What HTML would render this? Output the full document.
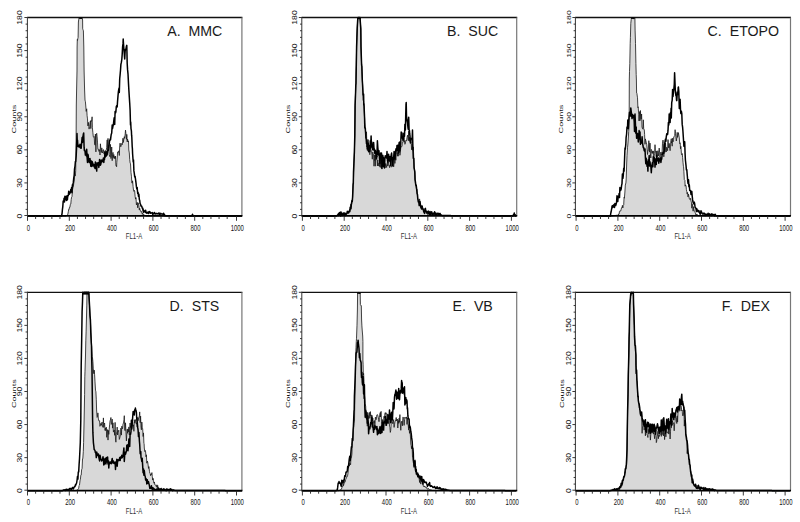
<!DOCTYPE html>
<html><head><meta charset="utf-8"><style>
html,body{margin:0;padding:0;background:#fff;}
svg{display:block;}
text{font-family:"Liberation Sans",sans-serif;fill:#222;}
.yl{font-size:6.6px;text-anchor:middle;fill:#111;}
.xl{font-size:9px;text-anchor:middle;fill:#111;}
.xt{font-size:8.6px;text-anchor:middle;fill:#333;}
.ct{font-size:6.1px;text-anchor:middle;fill:#111;}
.tt{font-size:14.2px;fill:#1a1a1a;}
</style></head><body>
<svg width="800" height="522" viewBox="0 0 800 522">
<rect width="800" height="522" fill="#fff"/>
<path d="M27.3,216 66,216 66.2,215.9 66.6,215.6 67,215.3 67.3,215.1 67.8,214.3 68.3,211.8 68.7,209.3 69.1,209.5 69.5,207.2 69.9,207.4 70.3,204.4 70.8,204.1 71.2,199.5 71.6,197.2 72,196.5 72.4,190.4 72.9,187.9 73.4,186 73.7,183.8 74.1,181.4 74.5,177.2 75,174.7 75.4,175.7 75.7,170.7 76.1,140 76.3,105 76.6,90 77,71 77.1,47 77.3,39.5 77.5,40.4 77.9,38.2 78.1,37.5 78.4,22 78.7,19.8 79.1,17.5 80,17.5 80.4,17.7 80.8,17.5 81.2,17.6 81.6,17.5 82.1,17.5 82.6,20 82.7,28.8 82.9,29.4 83.4,30.8 83.8,47 84.1,71 84.6,90 85,100.1 85.4,101.6 85.7,105 86.2,111.4 86.7,108.8 87.1,115.7 87.5,118.9 87.9,125.9 88.4,122.4 88.7,126.4 89.1,129.1 89.6,126.5 90,122.7 90.4,120.9 90.8,128.6 91.1,120.4 91.3,121.4 91.7,120.9 92.1,116.8 92.4,127.8 92.9,132.8 93.3,136.8 93.8,137.2 94.2,136.5 94.6,144.3 95.1,145.2 95.4,134 95.9,151.9 96.3,135.2 96.7,133.3 97.1,136.5 97.5,142.1 97.9,149.3 98.5,149.2 98.8,151.3 99.2,150.9 99.6,149.6 99.8,153.3 100,155 100.4,143.8 100.9,149.7 101.3,152.5 101.8,147.9 102.1,151.8 102.5,153 103,149.9 103.4,149.6 103.8,153.1 104.2,154.1 104.5,151.9 105,157.9 105.5,153.9 105.9,150 106.3,149.8 106.7,147.7 107.2,139.9 107.6,153 108,138.4 108.4,147.8 108.8,144.9 109.2,154.5 109.6,156.1 109.9,155.9 110.1,156.8 110.5,144.4 110.9,158.5 111.3,156.2 111.7,147 112.2,160.7 112.5,154.6 113,152.4 113.4,157.6 113.8,154.5 114.2,158.7 114.7,156.4 115.2,158.6 115.5,156.1 115.9,165.7 116.3,165.5 116.6,166.7 116.8,162.3 117.2,158 117.6,152 117.9,151.9 118.4,152.4 118.8,150.8 119.3,155.5 119.7,145.8 120.1,143.1 120.6,146.6 120.9,146.8 121.4,144.6 121.8,143.4 122.2,144.8 122.6,141.6 123,138.2 123.3,142.5 123.9,138.7 124.3,136.7 124.7,138.4 125.2,133.9 125.5,130.1 125.9,133.6 126.5,139.3 126.8,134.4 127.2,141.8 127.6,139.1 128,142 128.5,140.9 128.8,150 129.3,152.9 129.7,159.5 130.2,163.4 130.5,163.5 131,172.6 131.5,176.8 131.8,182.7 132.2,183.2 132.6,180.8 133.1,186.7 133.5,190.2 133.9,191.4 134.3,190.3 134.7,191.1 135.1,196.4 135.6,199.1 136,197.6 136.2,201 136.4,204.9 136.8,203.5 137.2,202.4 137.7,207.8 138.1,202.8 138.5,204.7 138.9,205.6 139.3,209.8 139.7,208.2 140.2,210.3 140.6,211.1 141,210.8 141.4,212.2 141.8,211.7 142.2,214.1 142.7,213.3 142.9,214.4 143.1,213.9 143.5,215.1 143.9,214.7 144.3,216 144.8,215.4 145.2,215.6 145.6,215.8 146,216 242,216 L242.00,216.00 L27.30,216.00 Z" fill="#d8d8d8" stroke="none"/>
<path d="M27.3,216 66,216 66.2,215.9 66.6,215.6 67,215.3 67.3,215.1 67.8,214.3 68.3,211.8 68.7,209.3 69.1,209.5 69.5,207.2 69.9,207.4 70.3,204.4 70.8,204.1 71.2,199.5 71.6,197.2 72,196.5 72.4,190.4 72.9,187.9 73.4,186 73.7,183.8 74.1,181.4 74.5,177.2 75,174.7 75.4,175.7 75.7,170.7 76.1,140 76.3,105 76.6,90 77,71 77.1,47 77.3,39.5 77.5,40.4 77.9,38.2 78.1,37.5 78.4,22 78.7,19.8 79.1,17.5 80,17.5 80.4,17.7 80.8,17.5 81.2,17.6 81.6,17.5 82.1,17.5 82.6,20 82.7,28.8 82.9,29.4 83.4,30.8 83.8,47 84.1,71 84.6,90 85,100.1 85.4,101.6 85.7,105 86.2,111.4 86.7,108.8 87.1,115.7 87.5,118.9 87.9,125.9 88.4,122.4 88.7,126.4 89.1,129.1 89.6,126.5 90,122.7 90.4,120.9 90.8,128.6 91.1,120.4 91.3,121.4 91.7,120.9 92.1,116.8 92.4,127.8 92.9,132.8 93.3,136.8 93.8,137.2 94.2,136.5 94.6,144.3 95.1,145.2 95.4,134 95.9,151.9 96.3,135.2 96.7,133.3 97.1,136.5 97.5,142.1 97.9,149.3 98.5,149.2 98.8,151.3 99.2,150.9 99.6,149.6 99.8,153.3 100,155 100.4,143.8 100.9,149.7 101.3,152.5 101.8,147.9 102.1,151.8 102.5,153 103,149.9 103.4,149.6 103.8,153.1 104.2,154.1 104.5,151.9 105,157.9 105.5,153.9 105.9,150 106.3,149.8 106.7,147.7 107.2,139.9 107.6,153 108,138.4 108.4,147.8 108.8,144.9 109.2,154.5 109.6,156.1 109.9,155.9 110.1,156.8 110.5,144.4 110.9,158.5 111.3,156.2 111.7,147 112.2,160.7 112.5,154.6 113,152.4 113.4,157.6 113.8,154.5 114.2,158.7 114.7,156.4 115.2,158.6 115.5,156.1 115.9,165.7 116.3,165.5 116.6,166.7 116.8,162.3 117.2,158 117.6,152 117.9,151.9 118.4,152.4 118.8,150.8 119.3,155.5 119.7,145.8 120.1,143.1 120.6,146.6 120.9,146.8 121.4,144.6 121.8,143.4 122.2,144.8 122.6,141.6 123,138.2 123.3,142.5 123.9,138.7 124.3,136.7 124.7,138.4 125.2,133.9 125.5,130.1 125.9,133.6 126.5,139.3 126.8,134.4 127.2,141.8 127.6,139.1 128,142 128.5,140.9 128.8,150 129.3,152.9 129.7,159.5 130.2,163.4 130.5,163.5 131,172.6 131.5,176.8 131.8,182.7 132.2,183.2 132.6,180.8 133.1,186.7 133.5,190.2 133.9,191.4 134.3,190.3 134.7,191.1 135.1,196.4 135.6,199.1 136,197.6 136.2,201 136.4,204.9 136.8,203.5 137.2,202.4 137.7,207.8 138.1,202.8 138.5,204.7 138.9,205.6 139.3,209.8 139.7,208.2 140.2,210.3 140.6,211.1 141,210.8 141.4,212.2 141.8,211.7 142.2,214.1 142.7,213.3 142.9,214.4 143.1,213.9 143.5,215.1 143.9,214.7 144.3,216 144.8,215.4 145.2,215.6 145.6,215.8 146,216 242,216" fill="none" stroke="#151515" stroke-width="0.8" stroke-linejoin="round"/>
<path d="M27.3,216 61.5,216 62,213.8 62.2,212 62.4,209.7 62.8,206.6 63.2,200.9 63.4,201.3 63.7,201.7 64.1,198.2 64.5,202 64.9,196.3 65.3,199.8 65.7,198.2 66.2,196.2 66.6,200.4 67,195.9 67.4,199.7 67.8,195.5 68.3,195.7 68.7,191.2 69.1,193.1 69.5,194.1 69.9,191.9 70.3,192.9 70.8,189.4 71.2,189.8 71.6,187.6 72,192.7 72.4,184.8 72.6,186 72.9,184.3 73.3,182.4 73.7,178.3 74.2,175.2 74.5,169.2 75,166.1 75.4,161.4 75.7,161.5 76.2,155.7 76.5,149.2 77,133.4 77.2,140 77.5,140.1 77.9,146.4 78.4,145.2 78.7,146.5 79.1,147.1 79.6,147.1 80,144.2 80.4,147.9 80.8,145.2 81.2,148.3 81.6,143.4 82.1,137.6 82.4,142.5 82.9,137.1 83.3,134.3 83.7,133 84.1,147.4 84.4,150.6 84.6,149.9 85,150.9 85.4,155.1 85.8,153.7 86.2,151.5 86.4,155.9 86.7,149.2 87.1,157.7 87.5,162.5 87.9,154.3 88.3,155.9 88.5,161.3 88.7,158.5 89.2,162.4 89.6,162.3 90,158.5 90.4,162 90.8,166.2 91.1,164 91.3,161.1 91.7,166.4 92.1,161.4 92.5,162.6 92.9,165.7 93.3,164.2 93.8,164.5 94.2,167 94.6,165.8 95,168.4 95.4,162 95.9,168.5 96.4,165.5 96.7,171.1 97.1,162.8 97.5,163.6 97.9,164.9 98.4,162.7 98.8,167.4 99.1,165.5 99.6,159.4 100,163.1 100.4,165.2 100.9,164 101.3,160.1 101.8,162 102.1,161.8 102.5,160.1 103,161.2 103.4,158 103.8,162.5 104.2,158.2 104.5,159.5 105,151.2 105.5,156.4 105.9,156.4 106.3,155.9 106.5,155 106.7,151.8 107.1,154.9 107.6,150.9 108,150 108.4,150.5 108.8,148.2 109.2,144.4 109.6,140.7 109.9,140.5 110.1,139 110.5,139.9 110.9,136.6 111.2,134.5 111.7,133.1 112.2,125 112.5,128.5 113,126 113.4,124.6 113.8,120.8 114.2,117.7 114.5,119 114.7,124.4 115.1,111.5 115.5,112.9 115.9,111.7 116.3,106.6 116.8,105.5 117.2,106.9 117.5,102 118,95.9 118.4,91.5 118.8,89.1 119.1,88 119.3,92.5 119.7,78.8 120.1,74.7 120.5,70.2 120.9,64.4 121.4,62.2 121.8,59.5 122.2,54.2 122.6,46.9 123,43.9 123.2,39.1 123.4,42.6 123.9,49 124.3,53.6 124.5,56.8 124.7,58.9 125.1,51.6 125.5,49.2 125.9,49.4 126.4,46.4 126.8,45.4 127.2,63.5 127.6,69.9 128,73.8 128.5,83.6 128.9,90.5 129.3,97 129.7,103 130.1,110 130.5,124.9 130.7,122 131,128.6 131.4,130.9 131.6,135.2 131.8,137 132.2,146.5 132.4,148.6 132.6,153.7 133.2,162 133.5,159.9 133.9,170.9 134.3,173.4 134.7,176.8 135.1,176.4 135.6,179.9 136,182.9 136.4,186.7 136.8,188.9 137.2,187.5 137.4,190.2 137.7,193.4 138.1,192.5 138.5,196.3 138.9,194.3 139.3,199.2 139.7,200.4 140.1,203.6 140.6,204.4 141,206.2 141.4,206.4 141.8,206.3 142.2,208.1 142.7,208.1 142.9,210.3 143.1,209 143.5,212.2 143.9,210.5 144.3,211.7 144.8,211.6 145.2,212.1 145.6,210.2 146,212.4 146.4,213.2 146.9,212.4 147.3,212.5 147.7,213.2 148.1,212 148.5,213.6 148.9,212.2 149.4,211.6 149.8,212.7 150.2,212.1 150.6,213.2 151,213 151.4,212.8 151.9,213.1 152.3,212.6 152.7,214.4 153.1,213.2 153.5,213.9 154,213.6 154.4,212.4 154.8,213.7 155.2,213.5 155.6,213.9 156,213.3 156.3,213.7 156.5,213.5 156.9,213.7 157.3,213.8 157.7,213.5 158.1,213.9 158.6,213.6 159,212.8 159.4,214.2 159.8,214.6 160.2,214 160.6,213.3 161.1,213.7 161.5,214.1 161.9,213.9 162.3,213.9 162.7,214.2 163,213.7 163.2,214.5 163.6,213.3 164,214.2 164.4,214.7 164.8,215.6 165.2,215.4 165.7,215.7 169.8,215.7 170.3,215.8 178.6,215.8 179,215.9 187.4,215.9 187.8,216 191.9,216 192.5,214.3 192.8,215.2 193.1,216 242,216" fill="none" stroke="#000" stroke-width="1.5" stroke-linejoin="round"/>
<line x1="27.40" y1="17.50" x2="242.40" y2="17.50" stroke="#111" stroke-width="1.3"/>
<line x1="241.90" y1="17.50" x2="241.90" y2="216.00" stroke="#777" stroke-width="1.2"/>
<line x1="27.40" y1="215.90" x2="242.40" y2="215.90" stroke="#000" stroke-width="1.7"/>
<line x1="27.40" y1="16.90" x2="27.40" y2="216.00" stroke="#333" stroke-width="1"/>
<line x1="24.40" y1="215.50" x2="27.40" y2="215.50" stroke="#222" stroke-width="0.9"/>
<line x1="25.60" y1="209.38" x2="27.40" y2="209.38" stroke="#222" stroke-width="0.9"/>
<line x1="25.60" y1="202.77" x2="27.40" y2="202.77" stroke="#222" stroke-width="0.9"/>
<line x1="25.60" y1="196.15" x2="27.40" y2="196.15" stroke="#222" stroke-width="0.9"/>
<line x1="25.60" y1="189.53" x2="27.40" y2="189.53" stroke="#222" stroke-width="0.9"/>
<line x1="24.40" y1="182.92" x2="27.40" y2="182.92" stroke="#222" stroke-width="0.9"/>
<line x1="25.60" y1="176.30" x2="27.40" y2="176.30" stroke="#222" stroke-width="0.9"/>
<line x1="25.60" y1="169.68" x2="27.40" y2="169.68" stroke="#222" stroke-width="0.9"/>
<line x1="25.60" y1="163.07" x2="27.40" y2="163.07" stroke="#222" stroke-width="0.9"/>
<line x1="25.60" y1="156.45" x2="27.40" y2="156.45" stroke="#222" stroke-width="0.9"/>
<line x1="24.40" y1="149.83" x2="27.40" y2="149.83" stroke="#222" stroke-width="0.9"/>
<line x1="25.60" y1="143.22" x2="27.40" y2="143.22" stroke="#222" stroke-width="0.9"/>
<line x1="25.60" y1="136.60" x2="27.40" y2="136.60" stroke="#222" stroke-width="0.9"/>
<line x1="25.60" y1="129.98" x2="27.40" y2="129.98" stroke="#222" stroke-width="0.9"/>
<line x1="25.60" y1="123.37" x2="27.40" y2="123.37" stroke="#222" stroke-width="0.9"/>
<line x1="24.40" y1="116.75" x2="27.40" y2="116.75" stroke="#222" stroke-width="0.9"/>
<line x1="25.60" y1="110.13" x2="27.40" y2="110.13" stroke="#222" stroke-width="0.9"/>
<line x1="25.60" y1="103.52" x2="27.40" y2="103.52" stroke="#222" stroke-width="0.9"/>
<line x1="25.60" y1="96.90" x2="27.40" y2="96.90" stroke="#222" stroke-width="0.9"/>
<line x1="25.60" y1="90.28" x2="27.40" y2="90.28" stroke="#222" stroke-width="0.9"/>
<line x1="24.40" y1="83.67" x2="27.40" y2="83.67" stroke="#222" stroke-width="0.9"/>
<line x1="25.60" y1="77.05" x2="27.40" y2="77.05" stroke="#222" stroke-width="0.9"/>
<line x1="25.60" y1="70.43" x2="27.40" y2="70.43" stroke="#222" stroke-width="0.9"/>
<line x1="25.60" y1="63.82" x2="27.40" y2="63.82" stroke="#222" stroke-width="0.9"/>
<line x1="25.60" y1="57.20" x2="27.40" y2="57.20" stroke="#222" stroke-width="0.9"/>
<line x1="24.40" y1="50.58" x2="27.40" y2="50.58" stroke="#222" stroke-width="0.9"/>
<line x1="25.60" y1="43.97" x2="27.40" y2="43.97" stroke="#222" stroke-width="0.9"/>
<line x1="25.60" y1="37.35" x2="27.40" y2="37.35" stroke="#222" stroke-width="0.9"/>
<line x1="25.60" y1="30.73" x2="27.40" y2="30.73" stroke="#222" stroke-width="0.9"/>
<line x1="25.60" y1="24.12" x2="27.40" y2="24.12" stroke="#222" stroke-width="0.9"/>
<line x1="24.40" y1="17.50" x2="27.40" y2="17.50" stroke="#222" stroke-width="0.9"/>
<line x1="27.50" y1="216.00" x2="27.50" y2="220.80" stroke="#222" stroke-width="0.9"/>
<line x1="35.62" y1="216.00" x2="35.62" y2="219.00" stroke="#222" stroke-width="0.9"/>
<line x1="43.74" y1="216.00" x2="43.74" y2="219.00" stroke="#222" stroke-width="0.9"/>
<line x1="51.86" y1="216.00" x2="51.86" y2="219.00" stroke="#222" stroke-width="0.9"/>
<line x1="59.98" y1="216.00" x2="59.98" y2="219.00" stroke="#222" stroke-width="0.9"/>
<line x1="69.30" y1="216.00" x2="69.30" y2="220.80" stroke="#222" stroke-width="0.9"/>
<line x1="77.42" y1="216.00" x2="77.42" y2="219.00" stroke="#222" stroke-width="0.9"/>
<line x1="85.54" y1="216.00" x2="85.54" y2="219.00" stroke="#222" stroke-width="0.9"/>
<line x1="93.66" y1="216.00" x2="93.66" y2="219.00" stroke="#222" stroke-width="0.9"/>
<line x1="101.78" y1="216.00" x2="101.78" y2="219.00" stroke="#222" stroke-width="0.9"/>
<line x1="111.10" y1="216.00" x2="111.10" y2="220.80" stroke="#222" stroke-width="0.9"/>
<line x1="119.22" y1="216.00" x2="119.22" y2="219.00" stroke="#222" stroke-width="0.9"/>
<line x1="127.34" y1="216.00" x2="127.34" y2="219.00" stroke="#222" stroke-width="0.9"/>
<line x1="135.46" y1="216.00" x2="135.46" y2="219.00" stroke="#222" stroke-width="0.9"/>
<line x1="143.58" y1="216.00" x2="143.58" y2="219.00" stroke="#222" stroke-width="0.9"/>
<line x1="152.90" y1="216.00" x2="152.90" y2="220.80" stroke="#222" stroke-width="0.9"/>
<line x1="161.02" y1="216.00" x2="161.02" y2="219.00" stroke="#222" stroke-width="0.9"/>
<line x1="169.14" y1="216.00" x2="169.14" y2="219.00" stroke="#222" stroke-width="0.9"/>
<line x1="177.26" y1="216.00" x2="177.26" y2="219.00" stroke="#222" stroke-width="0.9"/>
<line x1="185.38" y1="216.00" x2="185.38" y2="219.00" stroke="#222" stroke-width="0.9"/>
<line x1="194.70" y1="216.00" x2="194.70" y2="220.80" stroke="#222" stroke-width="0.9"/>
<line x1="202.82" y1="216.00" x2="202.82" y2="219.00" stroke="#222" stroke-width="0.9"/>
<line x1="210.94" y1="216.00" x2="210.94" y2="219.00" stroke="#222" stroke-width="0.9"/>
<line x1="219.06" y1="216.00" x2="219.06" y2="219.00" stroke="#222" stroke-width="0.9"/>
<line x1="227.18" y1="216.00" x2="227.18" y2="219.00" stroke="#222" stroke-width="0.9"/>
<line x1="236.50" y1="216.00" x2="236.50" y2="220.80" stroke="#222" stroke-width="0.9"/>
<text transform="translate(22.10,216.00) rotate(-90) scale(1.3,1.0)" class="yl">0</text>
<text transform="translate(22.10,182.92) rotate(-90) scale(1.3,1.0)" class="yl">30</text>
<text transform="translate(22.10,149.83) rotate(-90) scale(1.3,1.0)" class="yl">60</text>
<text transform="translate(22.10,116.75) rotate(-90) scale(1.3,1.0)" class="yl">90</text>
<text transform="translate(22.10,83.67) rotate(-90) scale(1.3,1.0)" class="yl">120</text>
<text transform="translate(22.10,50.58) rotate(-90) scale(1.3,1.0)" class="yl">150</text>
<text transform="translate(22.10,17.50) rotate(-90) scale(1.3,1.0)" class="yl">180</text>
<text transform="translate(28.30,230.60) scale(0.66,1)" class="xl">0</text>
<text transform="translate(70.10,230.60) scale(0.66,1)" class="xl">200</text>
<text transform="translate(111.90,230.60) scale(0.66,1)" class="xl">400</text>
<text transform="translate(153.70,230.60) scale(0.66,1)" class="xl">600</text>
<text transform="translate(195.50,230.60) scale(0.66,1)" class="xl">800</text>
<text transform="translate(237.30,230.60) scale(0.66,1)" class="xl">1000</text>
<text transform="translate(134.00,238.80) scale(0.7,1)" class="xt">FL1-A</text>
<text transform="translate(15.60,119.00) rotate(-90) scale(1.49,1.0)" class="ct">Counts</text>
<text x="167.20" y="35.90" class="tt" xml:space="preserve">A.  MMC</text>
<path d="M301.7,216 336,216 336.4,215.8 336.8,215.6 337.2,215.4 337.6,214.4 337.8,215.1 338.1,215.3 338.5,215.7 338.9,213.9 339.3,212.9 339.8,213 340.2,213.6 340.6,211.8 341,212.5 341.4,213.7 341.8,213.8 342.2,213.7 342.7,214.8 343.1,213.3 343.5,213.5 343.9,214.4 344.3,214.3 344.8,214 345.2,215.5 345.6,213.6 346,214.4 346.5,213.8 346.8,213.7 347.3,212.7 347.7,212.3 348.1,213.8 348.5,211.4 348.9,213.2 349.2,211.1 349.4,209.9 349.8,209.2 350.2,210.3 350.6,204.2 351,204.3 351.2,206.4 351.4,204.8 351.9,202.9 352.3,200.3 352.6,197 353.1,183.3 353.3,183.6 353.5,178.4 353.9,163.4 354.4,151.8 354.8,135 355.1,105.2 355.6,90.7 355.8,85.1 356,71.9 356.3,65 356.6,47 356.9,37.5 357.2,28.8 357.8,18 358,17.5 358.5,17.5 359,18.3 359.4,18.1 359.8,18.5 360,17.5 360,18 360.2,19.5 360.8,28.8 361,47 361.6,65 361.9,71.7 362.3,79.1 362.6,85.1 363.1,100 363.6,101.2 363.8,105.2 364,105.9 364.4,114.4 364.6,118.6 364.8,122.7 365.3,128 365.8,138.4 366.1,133.8 366.5,131.8 366.9,147 367.1,143.5 367.3,150.4 367.7,150.8 368.2,139.6 368.6,150.2 369,150 369.4,148.3 369.8,154.7 370.3,147.5 370.7,148.4 371.1,150.1 371.5,151.3 372,155 372.3,159.2 372.8,151.8 373.2,154.7 373.6,154.6 374,166.2 374.4,154.8 374.8,160.6 375,159 375.3,166.2 375.7,155.2 376.1,156.9 376.5,159.3 376.9,155.9 377.4,165.9 377.8,160 378,162 378.2,166 378.6,164.4 379,162.8 379.4,166.5 379.9,162.1 380.3,167.4 380.7,159 381,164 381.5,168.5 382,156.7 382.4,166.2 382.8,163.1 383.2,162.8 383.6,162.4 384,165 384.5,159.5 384.9,168 385.3,166.7 385.7,163.5 386.1,164.7 386.6,167.5 387,165 387.4,159.6 387.8,166 388.2,162 388.6,163.5 389.1,165.2 389.5,167.6 390,165 390.3,166 390.7,164.9 391.2,167.2 391.6,165 392,157.6 392.4,161.2 392.8,158.6 393,163 393.2,165.2 393.7,166.8 394.1,162.9 394.5,157.2 394.9,163.4 395.3,156.3 395.8,160.3 396,159 396.2,154.1 396.6,152.5 397,151.6 397.4,156.2 397.8,152.7 398.3,156.2 398.7,148.5 399,153 399.5,149 399.9,155.3 400.3,153.1 400.8,146.8 401,147 401.2,147 401.6,146.5 402,146.4 402.4,142.2 403,142 403.3,139.6 403.7,133.2 404.1,142.3 404.5,140.5 404.9,144.3 405.4,143 405.8,140.7 406,140 406.2,140.5 406.6,140.8 407,137.5 407.5,135.2 407.9,137.1 408.3,140.4 408.7,131.1 409,141 409.5,137.3 410,141.6 410.4,138.9 410.8,143.1 411,143 411.2,142.5 411.6,149.8 412.1,143.8 412.4,146 412.9,150.4 413.3,146.9 413.8,158.4 414.1,168.2 414.6,170.4 414.8,171.8 415,174.5 415.4,183 415.8,185.2 416.2,187.4 416.6,190.1 417.1,189.5 417.5,198.6 417.8,198.6 418.3,199.7 418.7,200.3 419.2,200.8 419.6,198.9 420,204.3 420.5,205.3 420.8,207.4 421.2,206 421.7,205.7 422.1,207.7 422.5,208.9 422.9,208.8 423.2,209.4 423.8,208.6 424.2,211.3 424.6,210.5 425,209.9 425.4,210.5 425.8,211.5 426.3,212.2 426.7,211.7 427.2,212 427.5,214.5 427.9,210.7 428.4,210.5 428.8,212.6 429.2,211.8 429.6,212.9 430,211.6 430.4,213.2 430.9,214.4 431.2,213.4 431.7,212.6 432.1,213.2 432.5,214.2 433,215 433.4,212.8 433.8,213 434.2,214.5 434.6,213.4 435,213 435.5,214.6 435.9,212.6 436.3,213.3 436.7,214.6 437.1,213.5 437.6,214.5 438,213.1 438.4,214.6 438.8,214.4 439.3,214.1 439.6,214.1 440.1,214.3 440.5,214.7 440.9,215.5 441.3,215.2 441.7,215.4 442,215.6 450.9,215.6 451.3,215.7 469.7,215.7 470.2,215.8 488.1,215.8 488.5,215.9 506.5,215.9 506.9,216 516,216 L516.00,216.00 L301.70,216.00 Z" fill="#d8d8d8" stroke="none"/>
<path d="M301.7,216 336,216 336.4,215.8 336.8,215.6 337.2,215.4 337.6,214.4 337.8,215.1 338.1,215.3 338.5,215.7 338.9,213.9 339.3,212.9 339.8,213 340.2,213.6 340.6,211.8 341,212.5 341.4,213.7 341.8,213.8 342.2,213.7 342.7,214.8 343.1,213.3 343.5,213.5 343.9,214.4 344.3,214.3 344.8,214 345.2,215.5 345.6,213.6 346,214.4 346.5,213.8 346.8,213.7 347.3,212.7 347.7,212.3 348.1,213.8 348.5,211.4 348.9,213.2 349.2,211.1 349.4,209.9 349.8,209.2 350.2,210.3 350.6,204.2 351,204.3 351.2,206.4 351.4,204.8 351.9,202.9 352.3,200.3 352.6,197 353.1,183.3 353.3,183.6 353.5,178.4 353.9,163.4 354.4,151.8 354.8,135 355.1,105.2 355.6,90.7 355.8,85.1 356,71.9 356.3,65 356.6,47 356.9,37.5 357.2,28.8 357.8,18 358,17.5 358.5,17.5 359,18.3 359.4,18.1 359.8,18.5 360,17.5 360,18 360.2,19.5 360.8,28.8 361,47 361.6,65 361.9,71.7 362.3,79.1 362.6,85.1 363.1,100 363.6,101.2 363.8,105.2 364,105.9 364.4,114.4 364.6,118.6 364.8,122.7 365.3,128 365.8,138.4 366.1,133.8 366.5,131.8 366.9,147 367.1,143.5 367.3,150.4 367.7,150.8 368.2,139.6 368.6,150.2 369,150 369.4,148.3 369.8,154.7 370.3,147.5 370.7,148.4 371.1,150.1 371.5,151.3 372,155 372.3,159.2 372.8,151.8 373.2,154.7 373.6,154.6 374,166.2 374.4,154.8 374.8,160.6 375,159 375.3,166.2 375.7,155.2 376.1,156.9 376.5,159.3 376.9,155.9 377.4,165.9 377.8,160 378,162 378.2,166 378.6,164.4 379,162.8 379.4,166.5 379.9,162.1 380.3,167.4 380.7,159 381,164 381.5,168.5 382,156.7 382.4,166.2 382.8,163.1 383.2,162.8 383.6,162.4 384,165 384.5,159.5 384.9,168 385.3,166.7 385.7,163.5 386.1,164.7 386.6,167.5 387,165 387.4,159.6 387.8,166 388.2,162 388.6,163.5 389.1,165.2 389.5,167.6 390,165 390.3,166 390.7,164.9 391.2,167.2 391.6,165 392,157.6 392.4,161.2 392.8,158.6 393,163 393.2,165.2 393.7,166.8 394.1,162.9 394.5,157.2 394.9,163.4 395.3,156.3 395.8,160.3 396,159 396.2,154.1 396.6,152.5 397,151.6 397.4,156.2 397.8,152.7 398.3,156.2 398.7,148.5 399,153 399.5,149 399.9,155.3 400.3,153.1 400.8,146.8 401,147 401.2,147 401.6,146.5 402,146.4 402.4,142.2 403,142 403.3,139.6 403.7,133.2 404.1,142.3 404.5,140.5 404.9,144.3 405.4,143 405.8,140.7 406,140 406.2,140.5 406.6,140.8 407,137.5 407.5,135.2 407.9,137.1 408.3,140.4 408.7,131.1 409,141 409.5,137.3 410,141.6 410.4,138.9 410.8,143.1 411,143 411.2,142.5 411.6,149.8 412.1,143.8 412.4,146 412.9,150.4 413.3,146.9 413.8,158.4 414.1,168.2 414.6,170.4 414.8,171.8 415,174.5 415.4,183 415.8,185.2 416.2,187.4 416.6,190.1 417.1,189.5 417.5,198.6 417.8,198.6 418.3,199.7 418.7,200.3 419.2,200.8 419.6,198.9 420,204.3 420.5,205.3 420.8,207.4 421.2,206 421.7,205.7 422.1,207.7 422.5,208.9 422.9,208.8 423.2,209.4 423.8,208.6 424.2,211.3 424.6,210.5 425,209.9 425.4,210.5 425.8,211.5 426.3,212.2 426.7,211.7 427.2,212 427.5,214.5 427.9,210.7 428.4,210.5 428.8,212.6 429.2,211.8 429.6,212.9 430,211.6 430.4,213.2 430.9,214.4 431.2,213.4 431.7,212.6 432.1,213.2 432.5,214.2 433,215 433.4,212.8 433.8,213 434.2,214.5 434.6,213.4 435,213 435.5,214.6 435.9,212.6 436.3,213.3 436.7,214.6 437.1,213.5 437.6,214.5 438,213.1 438.4,214.6 438.8,214.4 439.3,214.1 439.6,214.1 440.1,214.3 440.5,214.7 440.9,215.5 441.3,215.2 441.7,215.4 442,215.6 450.9,215.6 451.3,215.7 469.7,215.7 470.2,215.8 488.1,215.8 488.5,215.9 506.5,215.9 506.9,216 516,216" fill="none" stroke="#151515" stroke-width="0.8" stroke-linejoin="round"/>
<path d="M301.7,216 336,216 336.4,215.8 336.8,215.6 337.2,215.4 337.6,215.5 337.8,215.1 338.1,215.6 338.5,213.4 338.9,213.3 339.3,214.5 339.8,212.4 340.2,213.3 340.6,216 341,211.9 341.4,213.8 341.8,213.8 342.2,215.5 342.7,214.1 343.1,213 343.5,213.4 343.9,214.4 344.3,212.9 344.8,216 345.2,213.2 345.6,215.1 346,214.4 346.5,213.8 346.8,213.7 347.3,211.3 347.7,212 348.1,212.7 348.5,211.7 348.9,211.8 349.2,211.1 349.4,211 349.8,211.7 350.2,207.3 350.6,208.2 351,208.8 351.2,206.4 351.4,204.2 351.9,200.5 352.3,201.4 352.6,197 353.1,184.7 353.3,183.6 353.5,172.1 353.9,163.4 354.4,151.8 354.8,135 355.1,105.2 355.6,92.2 355.8,85.1 356,83.5 356.3,65 356.6,47 356.9,37.4 357.2,28.8 357.8,18 358,17.5 360,17.5 360,18 360.2,20.4 360.8,28.8 361,47 361.6,65 361.9,66.4 362.3,80.3 362.6,85.1 363.1,94.9 363.6,94.2 363.8,105.2 364,103.7 364.4,113.8 364.6,118.6 364.8,128.1 365.3,128 365.8,136 366.1,138.3 366.5,143.6 366.9,139.8 367.1,141 367.3,149 367.7,144.4 368.2,143.2 368.6,151.7 369.1,147 369.4,145.6 369.8,151.6 370.3,140.8 370.7,148 371.1,135.9 371.5,146.8 371.8,142 372.3,146.8 372.8,149.8 373.2,150 373.6,142.4 374,148.2 374.4,150.2 374.8,153.5 375.3,150.2 375.8,153 376.1,158.8 376.5,152.1 376.9,156.7 377.4,140.8 377.8,147.2 378.2,151.4 378.5,155 379,150.8 379.4,159.1 379.9,163.3 380.3,157.1 380.7,153 381.2,157 381.5,153.1 382,168.5 382.4,156 382.8,155.4 383.2,158 383.6,166.7 383.9,158 384.5,168 384.9,158.8 385.3,155.7 385.7,156.5 386.1,156.4 386.6,158 387,151.5 387.4,159.8 387.8,161.9 388.2,158.3 388.6,154.3 389.1,161.1 389.3,158.5 389.5,158.6 389.9,156.5 390.3,161.7 390.7,164.9 391.2,155 391.6,153.1 392,158 392.4,157.5 392.8,166 393.2,159.5 393.7,157 394.1,151.5 394.6,155 394.9,159.1 395.3,154.6 395.8,149.9 396.2,148.5 396.6,151 397,145.4 397.4,148.4 397.8,145.2 398.3,153.1 398.6,148 399.1,142.7 399.5,142.1 399.9,151 400.3,147.8 400.7,144 401.2,132 401.7,135 402,132.9 402.4,138.2 402.7,137 402.9,140.2 403.3,140 403.7,139.4 404,133 404.5,136.3 404.9,124.2 405.1,127.9 405.4,130.1 405.7,116.4 406,104.4 406.2,102.6 406.5,116 407,120 407.5,122.6 408,127.9 408.3,129.4 408.7,117.3 409.1,129.7 409.5,130.8 409.7,133.7 410,135.9 410.4,143 410.8,142.2 411.2,138.6 411.6,139 412.2,138.3 412.5,130.1 412.9,148 413.3,158.2 413.8,158.4 414.1,167.6 414.6,170.6 414.8,171.8 415,179.6 415.4,181.7 415.8,185.2 416.2,185 416.6,188.5 417.1,193.6 417.5,194.5 417.8,198.6 418.3,202 418.7,201.1 419.2,205.6 419.6,205.6 420,201.5 420.5,205.3 420.8,207.1 421.2,208.2 421.7,209 422.1,206 422.5,207.7 422.9,208.8 423.2,209.4 423.8,212.2 424.2,212.4 424.6,213.4 425,209 425.4,208.3 425.8,211.4 426.3,211 426.7,213.1 427.2,212 427.5,212.6 427.9,211.7 428.4,211.8 428.8,214 429.2,214.2 429.6,213.7 430,211.5 430.4,214.9 430.9,212.8 431.2,213.4 431.7,211.8 432.1,214.4 432.5,214.9 433,213.3 433.4,213.9 433.8,213.7 434.2,214.1 434.6,211.8 435,212.6 435.5,214.4 435.9,214.5 436.3,214.5 436.7,214.2 437.1,213.2 437.6,213.6 438,213.7 438.4,214.9 438.8,213.3 439.3,214.1 439.6,214.3 440.1,213.5 440.5,214.5 440.9,214.8 441.3,215.2 441.7,215.4 442,215.6 450.5,215.6 450.9,215.7 468.5,215.7 468.9,215.8 486,215.8 486.5,215.9 503.6,215.9 504,216 512.8,216 513.2,215.2 513.6,214.5 514,214.1 514.3,213 514.5,215.1 515,214.5 515.3,214.9 515.7,216 516,216" fill="none" stroke="#000" stroke-width="1.5" stroke-linejoin="round"/>
<line x1="301.80" y1="17.50" x2="517.20" y2="17.50" stroke="#111" stroke-width="1.3"/>
<line x1="516.70" y1="17.50" x2="516.70" y2="216.00" stroke="#777" stroke-width="1.2"/>
<line x1="301.80" y1="215.90" x2="517.20" y2="215.90" stroke="#000" stroke-width="1.7"/>
<line x1="301.80" y1="16.90" x2="301.80" y2="216.00" stroke="#333" stroke-width="1"/>
<line x1="298.80" y1="215.50" x2="301.80" y2="215.50" stroke="#222" stroke-width="0.9"/>
<line x1="300.00" y1="209.38" x2="301.80" y2="209.38" stroke="#222" stroke-width="0.9"/>
<line x1="300.00" y1="202.77" x2="301.80" y2="202.77" stroke="#222" stroke-width="0.9"/>
<line x1="300.00" y1="196.15" x2="301.80" y2="196.15" stroke="#222" stroke-width="0.9"/>
<line x1="300.00" y1="189.53" x2="301.80" y2="189.53" stroke="#222" stroke-width="0.9"/>
<line x1="298.80" y1="182.92" x2="301.80" y2="182.92" stroke="#222" stroke-width="0.9"/>
<line x1="300.00" y1="176.30" x2="301.80" y2="176.30" stroke="#222" stroke-width="0.9"/>
<line x1="300.00" y1="169.68" x2="301.80" y2="169.68" stroke="#222" stroke-width="0.9"/>
<line x1="300.00" y1="163.07" x2="301.80" y2="163.07" stroke="#222" stroke-width="0.9"/>
<line x1="300.00" y1="156.45" x2="301.80" y2="156.45" stroke="#222" stroke-width="0.9"/>
<line x1="298.80" y1="149.83" x2="301.80" y2="149.83" stroke="#222" stroke-width="0.9"/>
<line x1="300.00" y1="143.22" x2="301.80" y2="143.22" stroke="#222" stroke-width="0.9"/>
<line x1="300.00" y1="136.60" x2="301.80" y2="136.60" stroke="#222" stroke-width="0.9"/>
<line x1="300.00" y1="129.98" x2="301.80" y2="129.98" stroke="#222" stroke-width="0.9"/>
<line x1="300.00" y1="123.37" x2="301.80" y2="123.37" stroke="#222" stroke-width="0.9"/>
<line x1="298.80" y1="116.75" x2="301.80" y2="116.75" stroke="#222" stroke-width="0.9"/>
<line x1="300.00" y1="110.13" x2="301.80" y2="110.13" stroke="#222" stroke-width="0.9"/>
<line x1="300.00" y1="103.52" x2="301.80" y2="103.52" stroke="#222" stroke-width="0.9"/>
<line x1="300.00" y1="96.90" x2="301.80" y2="96.90" stroke="#222" stroke-width="0.9"/>
<line x1="300.00" y1="90.28" x2="301.80" y2="90.28" stroke="#222" stroke-width="0.9"/>
<line x1="298.80" y1="83.67" x2="301.80" y2="83.67" stroke="#222" stroke-width="0.9"/>
<line x1="300.00" y1="77.05" x2="301.80" y2="77.05" stroke="#222" stroke-width="0.9"/>
<line x1="300.00" y1="70.43" x2="301.80" y2="70.43" stroke="#222" stroke-width="0.9"/>
<line x1="300.00" y1="63.82" x2="301.80" y2="63.82" stroke="#222" stroke-width="0.9"/>
<line x1="300.00" y1="57.20" x2="301.80" y2="57.20" stroke="#222" stroke-width="0.9"/>
<line x1="298.80" y1="50.58" x2="301.80" y2="50.58" stroke="#222" stroke-width="0.9"/>
<line x1="300.00" y1="43.97" x2="301.80" y2="43.97" stroke="#222" stroke-width="0.9"/>
<line x1="300.00" y1="37.35" x2="301.80" y2="37.35" stroke="#222" stroke-width="0.9"/>
<line x1="300.00" y1="30.73" x2="301.80" y2="30.73" stroke="#222" stroke-width="0.9"/>
<line x1="300.00" y1="24.12" x2="301.80" y2="24.12" stroke="#222" stroke-width="0.9"/>
<line x1="298.80" y1="17.50" x2="301.80" y2="17.50" stroke="#222" stroke-width="0.9"/>
<line x1="302.40" y1="216.00" x2="302.40" y2="220.80" stroke="#222" stroke-width="0.9"/>
<line x1="310.52" y1="216.00" x2="310.52" y2="219.00" stroke="#222" stroke-width="0.9"/>
<line x1="318.64" y1="216.00" x2="318.64" y2="219.00" stroke="#222" stroke-width="0.9"/>
<line x1="326.76" y1="216.00" x2="326.76" y2="219.00" stroke="#222" stroke-width="0.9"/>
<line x1="334.88" y1="216.00" x2="334.88" y2="219.00" stroke="#222" stroke-width="0.9"/>
<line x1="344.20" y1="216.00" x2="344.20" y2="220.80" stroke="#222" stroke-width="0.9"/>
<line x1="352.32" y1="216.00" x2="352.32" y2="219.00" stroke="#222" stroke-width="0.9"/>
<line x1="360.44" y1="216.00" x2="360.44" y2="219.00" stroke="#222" stroke-width="0.9"/>
<line x1="368.56" y1="216.00" x2="368.56" y2="219.00" stroke="#222" stroke-width="0.9"/>
<line x1="376.68" y1="216.00" x2="376.68" y2="219.00" stroke="#222" stroke-width="0.9"/>
<line x1="386.00" y1="216.00" x2="386.00" y2="220.80" stroke="#222" stroke-width="0.9"/>
<line x1="394.12" y1="216.00" x2="394.12" y2="219.00" stroke="#222" stroke-width="0.9"/>
<line x1="402.24" y1="216.00" x2="402.24" y2="219.00" stroke="#222" stroke-width="0.9"/>
<line x1="410.36" y1="216.00" x2="410.36" y2="219.00" stroke="#222" stroke-width="0.9"/>
<line x1="418.48" y1="216.00" x2="418.48" y2="219.00" stroke="#222" stroke-width="0.9"/>
<line x1="427.80" y1="216.00" x2="427.80" y2="220.80" stroke="#222" stroke-width="0.9"/>
<line x1="435.92" y1="216.00" x2="435.92" y2="219.00" stroke="#222" stroke-width="0.9"/>
<line x1="444.04" y1="216.00" x2="444.04" y2="219.00" stroke="#222" stroke-width="0.9"/>
<line x1="452.16" y1="216.00" x2="452.16" y2="219.00" stroke="#222" stroke-width="0.9"/>
<line x1="460.28" y1="216.00" x2="460.28" y2="219.00" stroke="#222" stroke-width="0.9"/>
<line x1="469.60" y1="216.00" x2="469.60" y2="220.80" stroke="#222" stroke-width="0.9"/>
<line x1="477.72" y1="216.00" x2="477.72" y2="219.00" stroke="#222" stroke-width="0.9"/>
<line x1="485.84" y1="216.00" x2="485.84" y2="219.00" stroke="#222" stroke-width="0.9"/>
<line x1="493.96" y1="216.00" x2="493.96" y2="219.00" stroke="#222" stroke-width="0.9"/>
<line x1="502.08" y1="216.00" x2="502.08" y2="219.00" stroke="#222" stroke-width="0.9"/>
<line x1="511.40" y1="216.00" x2="511.40" y2="220.80" stroke="#222" stroke-width="0.9"/>
<text transform="translate(296.80,216.00) rotate(-90) scale(1.3,1.0)" class="yl">0</text>
<text transform="translate(296.80,182.92) rotate(-90) scale(1.3,1.0)" class="yl">30</text>
<text transform="translate(296.80,149.83) rotate(-90) scale(1.3,1.0)" class="yl">60</text>
<text transform="translate(296.80,116.75) rotate(-90) scale(1.3,1.0)" class="yl">90</text>
<text transform="translate(296.80,83.67) rotate(-90) scale(1.3,1.0)" class="yl">120</text>
<text transform="translate(296.80,50.58) rotate(-90) scale(1.3,1.0)" class="yl">150</text>
<text transform="translate(296.80,17.50) rotate(-90) scale(1.3,1.0)" class="yl">180</text>
<text transform="translate(303.20,230.60) scale(0.66,1)" class="xl">0</text>
<text transform="translate(345.00,230.60) scale(0.66,1)" class="xl">200</text>
<text transform="translate(386.80,230.60) scale(0.66,1)" class="xl">400</text>
<text transform="translate(428.60,230.60) scale(0.66,1)" class="xl">600</text>
<text transform="translate(470.40,230.60) scale(0.66,1)" class="xl">800</text>
<text transform="translate(512.20,230.60) scale(0.66,1)" class="xl">1000</text>
<text transform="translate(408.90,238.80) scale(0.7,1)" class="xt">FL1-A</text>
<text transform="translate(290.00,119.00) rotate(-90) scale(1.49,1.0)" class="ct">Counts</text>
<text x="447.00" y="35.90" class="tt" xml:space="preserve">B.  SUC</text>
<path d="M575.6,216 612,216 612.4,215.9 612.8,215.9 613.2,215.8 613.6,215.7 614.1,215.7 614.5,215.6 614.9,215.5 615.3,215.5 615.7,215.4 616.1,215.3 616.6,215.3 617,215.2 617.4,215.3 617.8,215 618.3,215 618.7,214 619.1,214.1 619.5,211.3 619.9,210.8 620.3,211.2 620.7,211 621.2,209.2 621.6,207.6 622.1,207.4 622.4,205.4 622.8,208 623.3,205.2 623.7,204.8 624.1,197.3 624.4,198.2 624.9,192 625.3,185.1 625.9,182.9 626.2,178.9 626.7,163 627,155.6 627.5,147.7 627.8,145 628.2,140 628.7,131.5 628.9,128 629.2,112 629.3,80 629.5,71.5 629.8,63.6 630.2,43.5 630.4,37.5 630.8,23.4 631.2,19.7 631.5,17.5 632,18.7 632.4,17.9 632.9,17.5 633.3,17.5 633.7,18.9 634.1,18.9 634.5,17.5 634.9,17.5 635.1,30.1 635.5,43.5 635.9,63.6 636.2,74.5 636.4,80 636.6,93.1 636.9,93.4 637.5,97.8 637.9,107.6 638.2,106.8 638.7,114.2 638.9,120.2 639.1,121 639.6,111.6 640,120.7 640.2,118 640.4,110.5 640.8,116.4 641.2,119.1 641.6,114 642,127 642.5,128.6 642.9,129.2 643.3,119.8 643.7,128.6 644.3,130 644.6,134.5 645,144.3 645.4,138.9 645.6,140 645.8,140.6 646.2,142.2 646.7,144.2 647.1,148.1 647.5,154.5 648,150 648.3,150.3 648.8,140.7 649.2,144.1 649.6,152.1 650,143.1 650.4,153.6 650.8,158 651,153 651.3,149.4 651.7,150.2 652.1,153.3 652.5,151.3 652.9,153.4 653.3,150.9 653.5,154 653.8,157.3 654.2,155 654.6,153.5 655,144.7 655.4,150.9 656,154 656.3,156.5 656.7,150.9 657.1,155.8 657.5,156.7 657.9,150.7 658.4,155.9 658.8,153 659.2,148.1 659.6,152.2 660,157.6 660.5,153.6 661,152 661.3,155 661.7,154.3 662.1,151.9 662.5,143.2 663,140.1 663.4,143.5 663.8,156.8 664.1,150 664.6,142.8 665.1,152.2 665.5,142.8 665.9,149.1 666.3,151.9 666.7,147.2 667,148 667.6,150.7 668,139.6 668.4,146 668.8,148 669.2,143.4 669.5,146 670.1,150.7 670.5,144.9 670.9,140.7 671.3,138.7 671.5,143 671.7,141.6 672.2,146.2 672.6,138.2 673,141.9 673.5,139.5 673.8,136.8 674.2,136.6 674.7,135.6 675.1,129.7 675.5,133.4 675.9,136.8 676.3,141 676.8,137.9 677.2,132.4 677.5,137.4 678,135.5 678.4,132.6 678.8,135.1 679.3,137.9 679.7,143.6 680.2,142.8 680.5,148.8 680.9,146.4 681.4,153.4 681.8,154.8 682.2,153.5 682.6,157.5 683,162.2 683.4,166.2 683.6,166.9 683.9,171.8 684.3,179.6 684.7,180 684.9,180.3 685.1,186.2 685.6,185 686,185.4 686.4,189.6 686.8,191.7 687.2,194.1 687.4,192.9 687.6,192.4 688,196.9 688.5,194.1 688.9,196.1 689.3,198.9 689.7,198.9 690.1,199.6 690.6,198.3 691,201.1 691.4,202.1 691.8,208.2 692.2,204.2 692.6,205 692.8,207.7 693.1,211.2 693.5,206.7 693.9,209 694.3,211.2 694.7,211.4 695.1,212.5 695.5,213 696,215.3 696.4,214 696.8,214.5 697.2,214.5 697.7,214.9 698.2,215.7 713.1,215.7 713.5,215.8 744.1,215.8 744.5,215.9 774.6,215.9 775,216 790,216 L790.00,216.00 L575.60,216.00 Z" fill="#d8d8d8" stroke="none"/>
<path d="M575.6,216 612,216 612.4,215.9 612.8,215.9 613.2,215.8 613.6,215.7 614.1,215.7 614.5,215.6 614.9,215.5 615.3,215.5 615.7,215.4 616.1,215.3 616.6,215.3 617,215.2 617.4,215.3 617.8,215 618.3,215 618.7,214 619.1,214.1 619.5,211.3 619.9,210.8 620.3,211.2 620.7,211 621.2,209.2 621.6,207.6 622.1,207.4 622.4,205.4 622.8,208 623.3,205.2 623.7,204.8 624.1,197.3 624.4,198.2 624.9,192 625.3,185.1 625.9,182.9 626.2,178.9 626.7,163 627,155.6 627.5,147.7 627.8,145 628.2,140 628.7,131.5 628.9,128 629.2,112 629.3,80 629.5,71.5 629.8,63.6 630.2,43.5 630.4,37.5 630.8,23.4 631.2,19.7 631.5,17.5 632,18.7 632.4,17.9 632.9,17.5 633.3,17.5 633.7,18.9 634.1,18.9 634.5,17.5 634.9,17.5 635.1,30.1 635.5,43.5 635.9,63.6 636.2,74.5 636.4,80 636.6,93.1 636.9,93.4 637.5,97.8 637.9,107.6 638.2,106.8 638.7,114.2 638.9,120.2 639.1,121 639.6,111.6 640,120.7 640.2,118 640.4,110.5 640.8,116.4 641.2,119.1 641.6,114 642,127 642.5,128.6 642.9,129.2 643.3,119.8 643.7,128.6 644.3,130 644.6,134.5 645,144.3 645.4,138.9 645.6,140 645.8,140.6 646.2,142.2 646.7,144.2 647.1,148.1 647.5,154.5 648,150 648.3,150.3 648.8,140.7 649.2,144.1 649.6,152.1 650,143.1 650.4,153.6 650.8,158 651,153 651.3,149.4 651.7,150.2 652.1,153.3 652.5,151.3 652.9,153.4 653.3,150.9 653.5,154 653.8,157.3 654.2,155 654.6,153.5 655,144.7 655.4,150.9 656,154 656.3,156.5 656.7,150.9 657.1,155.8 657.5,156.7 657.9,150.7 658.4,155.9 658.8,153 659.2,148.1 659.6,152.2 660,157.6 660.5,153.6 661,152 661.3,155 661.7,154.3 662.1,151.9 662.5,143.2 663,140.1 663.4,143.5 663.8,156.8 664.1,150 664.6,142.8 665.1,152.2 665.5,142.8 665.9,149.1 666.3,151.9 666.7,147.2 667,148 667.6,150.7 668,139.6 668.4,146 668.8,148 669.2,143.4 669.5,146 670.1,150.7 670.5,144.9 670.9,140.7 671.3,138.7 671.5,143 671.7,141.6 672.2,146.2 672.6,138.2 673,141.9 673.5,139.5 673.8,136.8 674.2,136.6 674.7,135.6 675.1,129.7 675.5,133.4 675.9,136.8 676.3,141 676.8,137.9 677.2,132.4 677.5,137.4 678,135.5 678.4,132.6 678.8,135.1 679.3,137.9 679.7,143.6 680.2,142.8 680.5,148.8 680.9,146.4 681.4,153.4 681.8,154.8 682.2,153.5 682.6,157.5 683,162.2 683.4,166.2 683.6,166.9 683.9,171.8 684.3,179.6 684.7,180 684.9,180.3 685.1,186.2 685.6,185 686,185.4 686.4,189.6 686.8,191.7 687.2,194.1 687.4,192.9 687.6,192.4 688,196.9 688.5,194.1 688.9,196.1 689.3,198.9 689.7,198.9 690.1,199.6 690.6,198.3 691,201.1 691.4,202.1 691.8,208.2 692.2,204.2 692.6,205 692.8,207.7 693.1,211.2 693.5,206.7 693.9,209 694.3,211.2 694.7,211.4 695.1,212.5 695.5,213 696,215.3 696.4,214 696.8,214.5 697.2,214.5 697.7,214.9 698.2,215.7 713.1,215.7 713.5,215.8 744.1,215.8 744.5,215.9 774.6,215.9 775,216 790,216" fill="none" stroke="#151515" stroke-width="0.8" stroke-linejoin="round"/>
<path d="M575.6,216 610.4,216 610.8,213 611.1,212 611.5,209.6 612,207 612.2,205.8 612.4,207.6 612.8,206.1 613.2,205.3 613.6,206.9 614.1,204.5 614.5,207.4 614.9,203.6 615.3,205.4 615.7,205.5 616.1,204.3 616.6,201.8 617,195.8 617.5,199.7 617.8,201.4 618.2,196.2 618.7,197.5 619.1,193.6 619.5,197.6 619.9,187.5 620.3,190.1 620.6,190.5 621.2,188.9 621.6,185.4 622,183.6 622.4,174.1 622.9,178.3 623.3,175.4 623.7,168.3 624.1,171.1 624.4,163 625,148 625.3,149.1 625.8,144.3 626.1,137.7 626.6,134 627,127 627.5,128.3 627.8,120.1 628.3,128.7 628.8,120.2 629.1,116.9 629.5,112.2 629.9,115.7 630.4,116 630.8,107.9 631.2,111.4 631.5,113.5 632,118.6 632.4,114.5 632.9,117.5 633.3,116.3 633.7,115.4 634.2,121.6 634.5,131.5 635,113.9 635.4,122.9 635.8,133.3 636.2,126.9 636.6,138.3 637,137.1 637.5,133.6 637.9,136 638.3,142 638.7,138.8 639.1,130.6 639.6,139 640,132.1 640.4,144.2 640.8,142.9 641.2,141.7 641.6,143 642.1,136.7 642.5,142.8 643,146 643.3,147.5 643.7,147.6 644.2,150.6 644.5,151 645,149.1 645.4,157.5 645.8,163.7 646.2,158.3 646.7,163.5 647.1,166.3 647.5,162.1 647.9,171.1 648.3,159.8 648.8,160.8 649.2,155.6 649.4,162.9 649.6,166.1 650,161.8 650.4,165.7 650.8,165.5 651.3,172.7 651.7,166.1 652.1,164.3 652.5,162.5 652.9,166.8 653.3,156.8 653.8,161.6 654.2,157.6 654.6,159.5 654.8,162.9 655,167.1 655.4,158.9 655.9,160.1 656.3,164.5 656.7,155.2 657.1,160.9 657.4,160.2 657.9,160.7 658.4,158 658.8,163.3 659.2,159 659.6,160.9 660.1,158.9 660.5,157.9 660.9,162.5 661.3,159.3 661.7,159.3 662.1,154.9 662.5,154.1 663,152.3 663.4,153.2 663.8,153.3 664.2,151.3 664.5,146 665.1,141 665.5,139.1 665.9,141.3 666.2,137.4 666.7,134 667.1,133.5 667.6,134.5 668,130.7 668.4,122.5 668.8,125 669.2,113.9 669.8,120.3 670.1,122.5 670.5,112.6 670.9,112.2 671.1,108.3 671.3,117.9 671.7,102.7 672.2,100.2 672.6,89.4 673,96.5 673.5,92 673.8,89.5 674.3,84 674.6,72.7 675.1,85.3 675.3,90 675.5,92.3 675.9,95.7 676.3,94.6 676.5,100 676.8,100.6 677.3,92 677.6,94.6 678,91.5 678.2,87.5 678.4,86.9 678.8,91.6 679.3,108.5 679.6,100.2 680.1,99.3 680.5,109.5 680.9,113.6 681.4,111.3 681.8,113.7 682.2,124.4 682.6,127.1 682.9,130.7 683.4,138.2 683.9,146.2 684.1,146 684.3,146.3 684.7,141.8 685.1,153.9 685.4,160 686,165.4 686.4,169.9 686.8,169.6 687.2,174.6 687.4,176.8 687.6,179.7 688,183.5 688.5,179.8 688.9,186.7 689.3,184.8 689.7,190.5 690.1,190.2 690.6,190.9 691,194.5 691.4,192.4 691.8,191.4 692.2,196.1 692.6,199.7 692.8,201 693.1,202.4 693.5,203.7 693.9,203.6 694.3,202.1 694.7,204 695.1,207.5 695.5,207.7 696,208.5 696.4,211.6 696.8,208.8 697.2,210.2 697.7,211.1 698.2,211.7 698.5,210.5 698.9,210.7 699.3,212.3 699.7,212.9 700.2,214.3 700.6,212.9 701,210.7 701.4,212.1 701.8,212.2 702.2,213.7 702.7,214.1 703.1,214 703.5,214.1 703.9,212.9 704.3,213.7 704.8,214 705.2,215.5 705.6,215.1 706,214.1 706.4,214.8 706.9,214.4 707.3,214.2 707.5,214.4 707.7,214.2 708.1,213.3 708.5,215.4 708.9,214.6 709.4,213.8 709.8,214.3 710.2,214.3 710.6,214.5 711,214.4 711.4,215.6 711.9,213.8 712.3,215.3 712.7,214.7 713.1,215.3 713.5,214.6 714,214.4 714.4,215 714.8,216 715.2,214.3 715.6,215 716,215.3 716.5,215.6 717,216 790,216" fill="none" stroke="#000" stroke-width="1.5" stroke-linejoin="round"/>
<line x1="575.40" y1="17.50" x2="791.00" y2="17.50" stroke="#111" stroke-width="1.3"/>
<line x1="790.50" y1="17.50" x2="790.50" y2="216.00" stroke="#777" stroke-width="1.2"/>
<line x1="575.40" y1="215.90" x2="791.00" y2="215.90" stroke="#000" stroke-width="1.7"/>
<line x1="575.40" y1="16.90" x2="575.40" y2="216.00" stroke="#333" stroke-width="1"/>
<line x1="572.40" y1="215.50" x2="575.40" y2="215.50" stroke="#222" stroke-width="0.9"/>
<line x1="573.60" y1="209.38" x2="575.40" y2="209.38" stroke="#222" stroke-width="0.9"/>
<line x1="573.60" y1="202.77" x2="575.40" y2="202.77" stroke="#222" stroke-width="0.9"/>
<line x1="573.60" y1="196.15" x2="575.40" y2="196.15" stroke="#222" stroke-width="0.9"/>
<line x1="573.60" y1="189.53" x2="575.40" y2="189.53" stroke="#222" stroke-width="0.9"/>
<line x1="572.40" y1="182.92" x2="575.40" y2="182.92" stroke="#222" stroke-width="0.9"/>
<line x1="573.60" y1="176.30" x2="575.40" y2="176.30" stroke="#222" stroke-width="0.9"/>
<line x1="573.60" y1="169.68" x2="575.40" y2="169.68" stroke="#222" stroke-width="0.9"/>
<line x1="573.60" y1="163.07" x2="575.40" y2="163.07" stroke="#222" stroke-width="0.9"/>
<line x1="573.60" y1="156.45" x2="575.40" y2="156.45" stroke="#222" stroke-width="0.9"/>
<line x1="572.40" y1="149.83" x2="575.40" y2="149.83" stroke="#222" stroke-width="0.9"/>
<line x1="573.60" y1="143.22" x2="575.40" y2="143.22" stroke="#222" stroke-width="0.9"/>
<line x1="573.60" y1="136.60" x2="575.40" y2="136.60" stroke="#222" stroke-width="0.9"/>
<line x1="573.60" y1="129.98" x2="575.40" y2="129.98" stroke="#222" stroke-width="0.9"/>
<line x1="573.60" y1="123.37" x2="575.40" y2="123.37" stroke="#222" stroke-width="0.9"/>
<line x1="572.40" y1="116.75" x2="575.40" y2="116.75" stroke="#222" stroke-width="0.9"/>
<line x1="573.60" y1="110.13" x2="575.40" y2="110.13" stroke="#222" stroke-width="0.9"/>
<line x1="573.60" y1="103.52" x2="575.40" y2="103.52" stroke="#222" stroke-width="0.9"/>
<line x1="573.60" y1="96.90" x2="575.40" y2="96.90" stroke="#222" stroke-width="0.9"/>
<line x1="573.60" y1="90.28" x2="575.40" y2="90.28" stroke="#222" stroke-width="0.9"/>
<line x1="572.40" y1="83.67" x2="575.40" y2="83.67" stroke="#222" stroke-width="0.9"/>
<line x1="573.60" y1="77.05" x2="575.40" y2="77.05" stroke="#222" stroke-width="0.9"/>
<line x1="573.60" y1="70.43" x2="575.40" y2="70.43" stroke="#222" stroke-width="0.9"/>
<line x1="573.60" y1="63.82" x2="575.40" y2="63.82" stroke="#222" stroke-width="0.9"/>
<line x1="573.60" y1="57.20" x2="575.40" y2="57.20" stroke="#222" stroke-width="0.9"/>
<line x1="572.40" y1="50.58" x2="575.40" y2="50.58" stroke="#222" stroke-width="0.9"/>
<line x1="573.60" y1="43.97" x2="575.40" y2="43.97" stroke="#222" stroke-width="0.9"/>
<line x1="573.60" y1="37.35" x2="575.40" y2="37.35" stroke="#222" stroke-width="0.9"/>
<line x1="573.60" y1="30.73" x2="575.40" y2="30.73" stroke="#222" stroke-width="0.9"/>
<line x1="573.60" y1="24.12" x2="575.40" y2="24.12" stroke="#222" stroke-width="0.9"/>
<line x1="572.40" y1="17.50" x2="575.40" y2="17.50" stroke="#222" stroke-width="0.9"/>
<line x1="576.10" y1="216.00" x2="576.10" y2="220.80" stroke="#222" stroke-width="0.9"/>
<line x1="584.22" y1="216.00" x2="584.22" y2="219.00" stroke="#222" stroke-width="0.9"/>
<line x1="592.34" y1="216.00" x2="592.34" y2="219.00" stroke="#222" stroke-width="0.9"/>
<line x1="600.46" y1="216.00" x2="600.46" y2="219.00" stroke="#222" stroke-width="0.9"/>
<line x1="608.58" y1="216.00" x2="608.58" y2="219.00" stroke="#222" stroke-width="0.9"/>
<line x1="617.90" y1="216.00" x2="617.90" y2="220.80" stroke="#222" stroke-width="0.9"/>
<line x1="626.02" y1="216.00" x2="626.02" y2="219.00" stroke="#222" stroke-width="0.9"/>
<line x1="634.14" y1="216.00" x2="634.14" y2="219.00" stroke="#222" stroke-width="0.9"/>
<line x1="642.26" y1="216.00" x2="642.26" y2="219.00" stroke="#222" stroke-width="0.9"/>
<line x1="650.38" y1="216.00" x2="650.38" y2="219.00" stroke="#222" stroke-width="0.9"/>
<line x1="659.70" y1="216.00" x2="659.70" y2="220.80" stroke="#222" stroke-width="0.9"/>
<line x1="667.82" y1="216.00" x2="667.82" y2="219.00" stroke="#222" stroke-width="0.9"/>
<line x1="675.94" y1="216.00" x2="675.94" y2="219.00" stroke="#222" stroke-width="0.9"/>
<line x1="684.06" y1="216.00" x2="684.06" y2="219.00" stroke="#222" stroke-width="0.9"/>
<line x1="692.18" y1="216.00" x2="692.18" y2="219.00" stroke="#222" stroke-width="0.9"/>
<line x1="701.50" y1="216.00" x2="701.50" y2="220.80" stroke="#222" stroke-width="0.9"/>
<line x1="709.62" y1="216.00" x2="709.62" y2="219.00" stroke="#222" stroke-width="0.9"/>
<line x1="717.74" y1="216.00" x2="717.74" y2="219.00" stroke="#222" stroke-width="0.9"/>
<line x1="725.86" y1="216.00" x2="725.86" y2="219.00" stroke="#222" stroke-width="0.9"/>
<line x1="733.98" y1="216.00" x2="733.98" y2="219.00" stroke="#222" stroke-width="0.9"/>
<line x1="743.30" y1="216.00" x2="743.30" y2="220.80" stroke="#222" stroke-width="0.9"/>
<line x1="751.42" y1="216.00" x2="751.42" y2="219.00" stroke="#222" stroke-width="0.9"/>
<line x1="759.54" y1="216.00" x2="759.54" y2="219.00" stroke="#222" stroke-width="0.9"/>
<line x1="767.66" y1="216.00" x2="767.66" y2="219.00" stroke="#222" stroke-width="0.9"/>
<line x1="775.78" y1="216.00" x2="775.78" y2="219.00" stroke="#222" stroke-width="0.9"/>
<line x1="785.10" y1="216.00" x2="785.10" y2="220.80" stroke="#222" stroke-width="0.9"/>
<text transform="translate(570.70,216.00) rotate(-90) scale(1.3,0.78)" class="yl">0</text>
<text transform="translate(570.70,182.92) rotate(-90) scale(1.3,0.78)" class="yl">30</text>
<text transform="translate(570.70,149.83) rotate(-90) scale(1.3,0.78)" class="yl">60</text>
<text transform="translate(570.70,116.75) rotate(-90) scale(1.3,0.78)" class="yl">90</text>
<text transform="translate(570.70,83.67) rotate(-90) scale(1.3,0.78)" class="yl">120</text>
<text transform="translate(570.70,50.58) rotate(-90) scale(1.3,0.78)" class="yl">150</text>
<text transform="translate(570.70,17.50) rotate(-90) scale(1.3,0.78)" class="yl">180</text>
<text transform="translate(576.90,230.60) scale(0.66,1)" class="xl">0</text>
<text transform="translate(618.70,230.60) scale(0.66,1)" class="xl">200</text>
<text transform="translate(660.50,230.60) scale(0.66,1)" class="xl">400</text>
<text transform="translate(702.30,230.60) scale(0.66,1)" class="xl">600</text>
<text transform="translate(744.10,230.60) scale(0.66,1)" class="xl">800</text>
<text transform="translate(785.90,230.60) scale(0.66,1)" class="xl">1000</text>
<text transform="translate(682.60,238.80) scale(0.7,1)" class="xt">FL1-A</text>
<text transform="translate(563.10,119.00) rotate(-90) scale(1.49,0.78)" class="ct">Counts</text>
<text x="707.60" y="35.90" class="tt" xml:space="preserve">C.  ETOPO</text>
<path d="M27.3,490.7 76,490.7 76.2,490.5 76.6,490.2 77,489.8 77.5,490.2 78,489 78.3,488.8 78.7,488.3 79.1,485.4 79.5,485 80,480.8 80.4,479.4 80.8,475.3 81.2,475.1 81.6,469.8 82.1,468.4 82.5,458.8 82.8,458.8 83.3,451.4 83.6,442.6 84.1,420 84.4,405 84.6,394.5 84.8,376.8 85,371.2 85.5,355 85.8,340.8 86.1,331.9 86.8,305.1 87,292.3 87.5,292.6 87.9,292.3 88.8,292.3 89.2,300.4 89.5,305.1 90,315.1 90.4,319.3 90.6,325.2 90.8,329.9 91.3,340.3 91.5,345.3 91.7,346.8 92.2,356.7 92.5,357.9 92.9,361.6 93.3,368.9 93.8,373.7 94.2,370.1 94.6,374.8 95,381.9 95.5,390.2 95.9,391.8 96.3,399.8 96.6,410 97.1,417.4 97.5,416.6 97.9,412.9 98.3,418.1 98.8,420.8 99.6,420.8 99.9,426.3 100.4,425.3 100.9,423.3 101.3,425.4 101.7,423.8 102.1,422 102.3,424.7 102.5,426.8 103,427.4 103.4,417.9 103.8,427.3 104.2,424.8 104.6,423 105,430.4 105.6,427.9 105.9,430.8 106.3,427.2 106.7,437.3 107.1,433 107.6,429.6 108,440.1 108.4,430.4 108.8,434.4 109.2,429.6 109.6,424.8 110.1,420.7 110.5,420 110.9,417.5 111.3,424.4 111.7,423.9 112.2,419.1 112.6,428.1 113,422.8 113.4,432.1 113.7,431.2 114.2,430 114.7,435.3 115.1,422.4 115.5,439 115.9,442.2 116.3,434.1 116.8,431.9 117,429.5 117.2,427.1 117.6,435 118,430.8 118.4,431.3 118.8,430.2 119.3,439.4 119.7,438.2 120.2,436 120.5,434.4 120.9,428.1 121.4,435.1 121.8,426.2 122.2,427.9 122.6,428.8 123,424.1 123.5,423 124,419.5 124.3,415.7 124.7,430.1 125.1,430.7 125.5,422.8 126,432.9 126.4,440.9 126.8,433.9 127.2,429.2 127.6,433.3 128,428.9 128.5,431.8 128.9,426.9 129.3,434.8 129.7,429 130.1,423 130.5,427.4 130.7,427.5 131,425.9 131.4,428.5 131.8,427.6 132.2,426.5 132.6,422.2 133.1,426.1 133.4,424.9 133.9,431.3 134.3,419.7 134.7,423.1 135.1,421.9 135.6,419.6 136.1,423.5 136.4,424.1 136.8,422.6 137.2,427.2 137.7,417.3 138.1,420.7 138.5,418.1 138.9,417.9 139.4,415.5 139.7,411.9 140.2,422.7 140.6,416.1 140.8,422.2 141,427.3 141.4,429.8 141.8,422 142.1,424.9 142.2,427.2 142.7,428.9 143.1,436.5 143.5,432.9 143.9,443.4 144.1,443.6 144.3,448 144.8,451.6 145.3,450.5 145.6,451.8 146,456.8 146.4,454.8 146.8,463.2 147.4,461.1 147.7,462 148.1,464.9 148.5,468.4 148.9,466.6 149.5,471.6 149.8,473.1 150.2,473.6 150.6,475.7 151,474 151.4,474.6 151.9,472.6 152.3,476.6 152.7,480.1 153.1,478.3 153.5,480.7 154,483.2 154.4,482 154.8,484.7 155.2,485.1 155.6,484.9 155.8,485.3 156,486.2 156.5,486.8 156.9,484.8 157.3,488.3 157.7,485.4 158.1,487.8 158.6,487.5 159,488.5 159.4,488.7 159.8,488.4 160.2,488.7 160.6,488.9 161.1,488.5 161.5,489.4 161.9,488.7 162.2,489.5 162.7,489.1 163.2,489.9 163.6,490 164,490.1 164.4,490.3 164.8,490.4 165,490.5 184,490.5 184.5,490.6 222.5,490.6 222.9,490.7 242,490.7 L242.00,490.70 L27.30,490.70 Z" fill="#d8d8d8" stroke="none"/>
<path d="M27.3,490.7 76,490.7 76.2,490.5 76.6,490.2 77,489.8 77.5,490.2 78,489 78.3,488.8 78.7,488.3 79.1,485.4 79.5,485 80,480.8 80.4,479.4 80.8,475.3 81.2,475.1 81.6,469.8 82.1,468.4 82.5,458.8 82.8,458.8 83.3,451.4 83.6,442.6 84.1,420 84.4,405 84.6,394.5 84.8,376.8 85,371.2 85.5,355 85.8,340.8 86.1,331.9 86.8,305.1 87,292.3 87.5,292.6 87.9,292.3 88.8,292.3 89.2,300.4 89.5,305.1 90,315.1 90.4,319.3 90.6,325.2 90.8,329.9 91.3,340.3 91.5,345.3 91.7,346.8 92.2,356.7 92.5,357.9 92.9,361.6 93.3,368.9 93.8,373.7 94.2,370.1 94.6,374.8 95,381.9 95.5,390.2 95.9,391.8 96.3,399.8 96.6,410 97.1,417.4 97.5,416.6 97.9,412.9 98.3,418.1 98.8,420.8 99.6,420.8 99.9,426.3 100.4,425.3 100.9,423.3 101.3,425.4 101.7,423.8 102.1,422 102.3,424.7 102.5,426.8 103,427.4 103.4,417.9 103.8,427.3 104.2,424.8 104.6,423 105,430.4 105.6,427.9 105.9,430.8 106.3,427.2 106.7,437.3 107.1,433 107.6,429.6 108,440.1 108.4,430.4 108.8,434.4 109.2,429.6 109.6,424.8 110.1,420.7 110.5,420 110.9,417.5 111.3,424.4 111.7,423.9 112.2,419.1 112.6,428.1 113,422.8 113.4,432.1 113.7,431.2 114.2,430 114.7,435.3 115.1,422.4 115.5,439 115.9,442.2 116.3,434.1 116.8,431.9 117,429.5 117.2,427.1 117.6,435 118,430.8 118.4,431.3 118.8,430.2 119.3,439.4 119.7,438.2 120.2,436 120.5,434.4 120.9,428.1 121.4,435.1 121.8,426.2 122.2,427.9 122.6,428.8 123,424.1 123.5,423 124,419.5 124.3,415.7 124.7,430.1 125.1,430.7 125.5,422.8 126,432.9 126.4,440.9 126.8,433.9 127.2,429.2 127.6,433.3 128,428.9 128.5,431.8 128.9,426.9 129.3,434.8 129.7,429 130.1,423 130.5,427.4 130.7,427.5 131,425.9 131.4,428.5 131.8,427.6 132.2,426.5 132.6,422.2 133.1,426.1 133.4,424.9 133.9,431.3 134.3,419.7 134.7,423.1 135.1,421.9 135.6,419.6 136.1,423.5 136.4,424.1 136.8,422.6 137.2,427.2 137.7,417.3 138.1,420.7 138.5,418.1 138.9,417.9 139.4,415.5 139.7,411.9 140.2,422.7 140.6,416.1 140.8,422.2 141,427.3 141.4,429.8 141.8,422 142.1,424.9 142.2,427.2 142.7,428.9 143.1,436.5 143.5,432.9 143.9,443.4 144.1,443.6 144.3,448 144.8,451.6 145.3,450.5 145.6,451.8 146,456.8 146.4,454.8 146.8,463.2 147.4,461.1 147.7,462 148.1,464.9 148.5,468.4 148.9,466.6 149.5,471.6 149.8,473.1 150.2,473.6 150.6,475.7 151,474 151.4,474.6 151.9,472.6 152.3,476.6 152.7,480.1 153.1,478.3 153.5,480.7 154,483.2 154.4,482 154.8,484.7 155.2,485.1 155.6,484.9 155.8,485.3 156,486.2 156.5,486.8 156.9,484.8 157.3,488.3 157.7,485.4 158.1,487.8 158.6,487.5 159,488.5 159.4,488.7 159.8,488.4 160.2,488.7 160.6,488.9 161.1,488.5 161.5,489.4 161.9,488.7 162.2,489.5 162.7,489.1 163.2,489.9 163.6,490 164,490.1 164.4,490.3 164.8,490.4 165,490.5 184,490.5 184.5,490.6 222.5,490.6 222.9,490.7 242,490.7" fill="none" stroke="#151515" stroke-width="0.8" stroke-linejoin="round"/>
<path d="M27.3,490.7 62.5,490.7 62.8,490.5 63.3,490.1 63.7,490 64.1,489.9 64.5,490.3 64.9,489.8 65.3,490.5 65.8,489.9 66.2,489.2 66.5,489.4 67,490 67.4,489.5 67.8,489.5 68.3,490.1 68.7,489.4 69.1,489.6 69.5,488.8 69.9,488.4 70.4,488.4 70.8,488.7 71.2,489.9 71.4,489 71.6,489.1 72,488.5 72.4,487.4 72.9,487.8 73.3,489 73.7,488.2 74.1,487.1 74.5,486.6 74.7,486.5 75,486.7 75.4,484.8 75.8,484.9 76.2,483.8 76.6,483 77.1,480 77.5,476.3 77.9,479.1 78.3,471.9 78.7,471.9 79.1,464.5 79.5,458.8 80,449 80.3,442.6 80.8,420 81,390 81.2,365.8 81.4,355 81.7,338.6 82.1,311.8 82.5,301.7 82.8,292.3 83.3,292.9 83.7,292.5 84.1,292.3 84.6,292.3 85,292.6 85.4,292.3 87.5,292.3 87.9,292.7 88.3,292.5 88.8,292.3 89.2,299.6 89.5,305.1 90,315.6 90.4,319.6 90.6,325.2 90.8,332.7 91.3,343 91.5,345.3 91.7,358.6 92,370 92.3,395 92.6,420 92.9,432.9 93.4,442.6 93.8,445.9 94.2,449.7 94.6,449.9 95,450.7 95.4,452.6 95.9,453.2 96.3,457.6 96.7,452 97.1,453.4 97.4,455.6 97.9,454.9 98.4,454 98.8,457.2 99.2,459.1 99.6,460.9 100,455.2 100.4,457.2 100.7,458.8 100.9,459.1 101.3,459.8 101.7,460.9 102.1,460.4 102.5,459.1 103,456.8 103.4,459.3 103.8,464.9 104,460.5 104.2,464.4 104.6,462.3 105,458.5 105.5,460.1 105.9,464 106.3,457.5 106.7,459.4 107.2,462.1 107.6,457 108,463.9 108.4,460.7 108.8,467.9 109.2,462.1 109.6,463.8 110.1,463.3 110.5,462.1 110.9,462 111.3,463.7 111.7,461.1 112.2,458.4 112.6,462.5 113,463 113.4,461.1 113.7,462.9 114.2,463.5 114.7,463 115.1,461.9 115.5,469.5 115.9,462.2 116.3,465.4 116.8,459.3 117,462.1 117.2,466.3 117.6,460.9 118,459.8 118.4,460 118.8,460.6 119.3,459 119.7,457.6 120.2,460.5 120.5,456.9 120.9,458.3 121.4,457.6 121.8,455.3 122.2,457.7 122.6,456.3 123,456.5 123.4,452.6 123.9,447.9 124.3,461.4 124.7,455.3 125.1,452.3 125.5,454.2 126,452.5 126.4,451 126.8,445.4 127.2,444.9 127.6,450.3 128,450.7 128.5,446 128.9,439 129.3,443.2 129.7,446.4 130.1,434.3 130.5,434.5 131,431.7 131.4,420.2 131.8,428.9 132.1,423.5 132.6,418.3 133.1,411.7 133.4,411.5 133.9,412.3 134.3,414.9 134.7,409.8 135.1,410.1 135.4,408.1 135.6,409.8 136,410.3 136.4,412.5 136.8,419.5 137.2,422.4 137.7,427.2 138.1,430.2 138.5,436.6 138.9,432.4 139.4,441 139.7,444.4 140.2,453.7 140.6,452.1 140.8,451.7 141,457.6 141.4,458.9 141.8,461.4 142.2,458.3 142.7,466.4 143.1,472.8 143.5,468.9 143.9,475.3 144.3,470.5 144.8,475.3 145.3,476.9 145.6,479.8 146,480.5 146.4,479 146.8,484 147.3,479.8 147.7,481.9 147.9,483.2 148.1,482.9 148.5,481.7 148.9,483.6 149.4,485.7 149.8,488.3 150.2,488.3 150.6,487.4 151,488.2 151.4,485.7 151.9,488.3 152.3,489.5 152.7,487.8 153.1,489.5 153.5,488.1 153.7,489 154,489 154.4,489.1 154.8,489.4 155.2,489.5 155.6,490.2 156,489.8 156.5,489.3 156.9,489.2 157.3,488.9 157.7,489.2 158,489.5 158.6,488.5 159,489.9 159.4,489.8 159.8,489.9 160.2,489.2 160.6,489.7 161.1,488.5 161.5,490 161.9,489.9 162.3,490.3 162.7,489.7 163.2,489.6 163.6,488.8 164,490.2 164.3,489.5 164.8,489.2 165.2,489.7 165.7,490.4 166.1,490.7 166.5,489.5 166.9,488.8 167.3,489.4 167.7,489.6 168.2,489.5 168.6,489.9 169,489.5 169.4,489.6 169.8,490.1 170.3,488.7 170.7,489.7 171.1,490.1 171.5,489.3 171.7,489.5 171.9,489.6 172.3,490.1 172.8,490.7 173.2,489.9 173.6,490.1 174,490.2 174.4,490.3 175,490.5 191.6,490.5 192,490.6 225,490.6 225.4,490.7 242,490.7" fill="none" stroke="#000" stroke-width="1.5" stroke-linejoin="round"/>
<line x1="27.40" y1="292.30" x2="242.40" y2="292.30" stroke="#111" stroke-width="1.3"/>
<line x1="241.90" y1="292.30" x2="241.90" y2="490.70" stroke="#777" stroke-width="1.2"/>
<line x1="27.40" y1="490.60" x2="242.40" y2="490.60" stroke="#000" stroke-width="1.7"/>
<line x1="27.40" y1="291.70" x2="27.40" y2="490.70" stroke="#333" stroke-width="1"/>
<line x1="24.40" y1="490.20" x2="27.40" y2="490.20" stroke="#222" stroke-width="0.9"/>
<line x1="25.60" y1="484.09" x2="27.40" y2="484.09" stroke="#222" stroke-width="0.9"/>
<line x1="25.60" y1="477.47" x2="27.40" y2="477.47" stroke="#222" stroke-width="0.9"/>
<line x1="25.60" y1="470.86" x2="27.40" y2="470.86" stroke="#222" stroke-width="0.9"/>
<line x1="25.60" y1="464.25" x2="27.40" y2="464.25" stroke="#222" stroke-width="0.9"/>
<line x1="24.40" y1="457.63" x2="27.40" y2="457.63" stroke="#222" stroke-width="0.9"/>
<line x1="25.60" y1="451.02" x2="27.40" y2="451.02" stroke="#222" stroke-width="0.9"/>
<line x1="25.60" y1="444.41" x2="27.40" y2="444.41" stroke="#222" stroke-width="0.9"/>
<line x1="25.60" y1="437.79" x2="27.40" y2="437.79" stroke="#222" stroke-width="0.9"/>
<line x1="25.60" y1="431.18" x2="27.40" y2="431.18" stroke="#222" stroke-width="0.9"/>
<line x1="24.40" y1="424.57" x2="27.40" y2="424.57" stroke="#222" stroke-width="0.9"/>
<line x1="25.60" y1="417.95" x2="27.40" y2="417.95" stroke="#222" stroke-width="0.9"/>
<line x1="25.60" y1="411.34" x2="27.40" y2="411.34" stroke="#222" stroke-width="0.9"/>
<line x1="25.60" y1="404.73" x2="27.40" y2="404.73" stroke="#222" stroke-width="0.9"/>
<line x1="25.60" y1="398.11" x2="27.40" y2="398.11" stroke="#222" stroke-width="0.9"/>
<line x1="24.40" y1="391.50" x2="27.40" y2="391.50" stroke="#222" stroke-width="0.9"/>
<line x1="25.60" y1="384.89" x2="27.40" y2="384.89" stroke="#222" stroke-width="0.9"/>
<line x1="25.60" y1="378.27" x2="27.40" y2="378.27" stroke="#222" stroke-width="0.9"/>
<line x1="25.60" y1="371.66" x2="27.40" y2="371.66" stroke="#222" stroke-width="0.9"/>
<line x1="25.60" y1="365.05" x2="27.40" y2="365.05" stroke="#222" stroke-width="0.9"/>
<line x1="24.40" y1="358.43" x2="27.40" y2="358.43" stroke="#222" stroke-width="0.9"/>
<line x1="25.60" y1="351.82" x2="27.40" y2="351.82" stroke="#222" stroke-width="0.9"/>
<line x1="25.60" y1="345.21" x2="27.40" y2="345.21" stroke="#222" stroke-width="0.9"/>
<line x1="25.60" y1="338.59" x2="27.40" y2="338.59" stroke="#222" stroke-width="0.9"/>
<line x1="25.60" y1="331.98" x2="27.40" y2="331.98" stroke="#222" stroke-width="0.9"/>
<line x1="24.40" y1="325.37" x2="27.40" y2="325.37" stroke="#222" stroke-width="0.9"/>
<line x1="25.60" y1="318.75" x2="27.40" y2="318.75" stroke="#222" stroke-width="0.9"/>
<line x1="25.60" y1="312.14" x2="27.40" y2="312.14" stroke="#222" stroke-width="0.9"/>
<line x1="25.60" y1="305.53" x2="27.40" y2="305.53" stroke="#222" stroke-width="0.9"/>
<line x1="25.60" y1="298.91" x2="27.40" y2="298.91" stroke="#222" stroke-width="0.9"/>
<line x1="24.40" y1="292.30" x2="27.40" y2="292.30" stroke="#222" stroke-width="0.9"/>
<line x1="27.50" y1="490.70" x2="27.50" y2="495.50" stroke="#222" stroke-width="0.9"/>
<line x1="35.62" y1="490.70" x2="35.62" y2="493.70" stroke="#222" stroke-width="0.9"/>
<line x1="43.74" y1="490.70" x2="43.74" y2="493.70" stroke="#222" stroke-width="0.9"/>
<line x1="51.86" y1="490.70" x2="51.86" y2="493.70" stroke="#222" stroke-width="0.9"/>
<line x1="59.98" y1="490.70" x2="59.98" y2="493.70" stroke="#222" stroke-width="0.9"/>
<line x1="69.30" y1="490.70" x2="69.30" y2="495.50" stroke="#222" stroke-width="0.9"/>
<line x1="77.42" y1="490.70" x2="77.42" y2="493.70" stroke="#222" stroke-width="0.9"/>
<line x1="85.54" y1="490.70" x2="85.54" y2="493.70" stroke="#222" stroke-width="0.9"/>
<line x1="93.66" y1="490.70" x2="93.66" y2="493.70" stroke="#222" stroke-width="0.9"/>
<line x1="101.78" y1="490.70" x2="101.78" y2="493.70" stroke="#222" stroke-width="0.9"/>
<line x1="111.10" y1="490.70" x2="111.10" y2="495.50" stroke="#222" stroke-width="0.9"/>
<line x1="119.22" y1="490.70" x2="119.22" y2="493.70" stroke="#222" stroke-width="0.9"/>
<line x1="127.34" y1="490.70" x2="127.34" y2="493.70" stroke="#222" stroke-width="0.9"/>
<line x1="135.46" y1="490.70" x2="135.46" y2="493.70" stroke="#222" stroke-width="0.9"/>
<line x1="143.58" y1="490.70" x2="143.58" y2="493.70" stroke="#222" stroke-width="0.9"/>
<line x1="152.90" y1="490.70" x2="152.90" y2="495.50" stroke="#222" stroke-width="0.9"/>
<line x1="161.02" y1="490.70" x2="161.02" y2="493.70" stroke="#222" stroke-width="0.9"/>
<line x1="169.14" y1="490.70" x2="169.14" y2="493.70" stroke="#222" stroke-width="0.9"/>
<line x1="177.26" y1="490.70" x2="177.26" y2="493.70" stroke="#222" stroke-width="0.9"/>
<line x1="185.38" y1="490.70" x2="185.38" y2="493.70" stroke="#222" stroke-width="0.9"/>
<line x1="194.70" y1="490.70" x2="194.70" y2="495.50" stroke="#222" stroke-width="0.9"/>
<line x1="202.82" y1="490.70" x2="202.82" y2="493.70" stroke="#222" stroke-width="0.9"/>
<line x1="210.94" y1="490.70" x2="210.94" y2="493.70" stroke="#222" stroke-width="0.9"/>
<line x1="219.06" y1="490.70" x2="219.06" y2="493.70" stroke="#222" stroke-width="0.9"/>
<line x1="227.18" y1="490.70" x2="227.18" y2="493.70" stroke="#222" stroke-width="0.9"/>
<line x1="236.50" y1="490.70" x2="236.50" y2="495.50" stroke="#222" stroke-width="0.9"/>
<text transform="translate(22.10,490.70) rotate(-90) scale(1.3,1.0)" class="yl">0</text>
<text transform="translate(22.10,457.63) rotate(-90) scale(1.3,1.0)" class="yl">30</text>
<text transform="translate(22.10,424.57) rotate(-90) scale(1.3,1.0)" class="yl">60</text>
<text transform="translate(22.10,391.50) rotate(-90) scale(1.3,1.0)" class="yl">90</text>
<text transform="translate(22.10,358.43) rotate(-90) scale(1.3,1.0)" class="yl">120</text>
<text transform="translate(22.10,325.37) rotate(-90) scale(1.3,1.0)" class="yl">150</text>
<text transform="translate(22.10,292.30) rotate(-90) scale(1.3,1.0)" class="yl">180</text>
<text transform="translate(28.30,505.30) scale(0.66,1)" class="xl">0</text>
<text transform="translate(70.10,505.30) scale(0.66,1)" class="xl">200</text>
<text transform="translate(111.90,505.30) scale(0.66,1)" class="xl">400</text>
<text transform="translate(153.70,505.30) scale(0.66,1)" class="xl">600</text>
<text transform="translate(195.50,505.30) scale(0.66,1)" class="xl">800</text>
<text transform="translate(237.30,505.30) scale(0.66,1)" class="xl">1000</text>
<text transform="translate(134.00,513.50) scale(0.7,1)" class="xt">FL1-A</text>
<text transform="translate(15.60,393.70) rotate(-90) scale(1.49,1.0)" class="ct">Counts</text>
<text x="169.60" y="310.70" class="tt" xml:space="preserve">D.  STS</text>
<path d="M301.7,490.7 339,490.7 339.3,490.5 339.7,490.3 340.3,490 340.6,490.2 341,489.1 341.4,489 341.8,488.1 342.2,486.4 342.8,486.5 343.1,483.5 343.5,485.7 343.9,484 344.3,483.2 344.8,482.1 345.2,481.9 345.6,479.6 346,479.1 346.4,476.8 346.8,476.6 347.3,476.7 347.7,475.1 348.1,472.3 348.5,467.8 348.9,464.4 349.4,466 349.8,462.6 350.2,464 350.6,464.8 350.9,458.8 351.4,457.9 351.9,454.1 352.3,443.2 352.7,441.2 353,440 353.5,429.8 354,423.3 354.5,420 354.8,400.9 355.2,380 355.7,355 356,347.6 356.3,341.3 356.5,338.3 357,325.2 357.4,310 357.6,292.3 358.1,293.1 358.5,292.4 359,292.6 359.4,293 359.8,293.8 360.2,292.3 360.4,304.5 360.6,304.8 361.1,305.9 361.3,305.8 361.6,320 361.9,325.9 362.2,330 362.7,336 362.9,341.3 362.9,360.1 363.1,364.2 363.3,375 363.6,373.4 364,381.4 364.2,388 364.4,394.6 364.8,398.1 365.1,403.5 365.7,406.2 366.1,415.9 366.5,411.7 366.9,412.3 367.1,416.9 367.3,426.2 367.7,412.5 368.2,417.5 368.6,418.6 369,414.7 369.4,412.4 369.8,418.3 370.4,411.6 370.7,415.9 371.1,414.9 371.5,424.1 371.9,415.2 372.4,421 372.8,418 373.2,421.5 373.6,421.3 374,423.3 374.4,420.5 374.8,425.5 375.1,423.6 375.3,417.6 375.7,417 376.1,419.7 376.5,416.6 376.9,414.9 377.4,414.6 377.8,415.6 378.2,417.1 378.6,419.2 379,421.7 379.4,417.3 379.9,413.9 380.3,412.5 380.5,417 380.7,412.9 381.1,411.4 381.5,421.2 382,426.5 382.4,419.5 382.8,421.6 383.2,421 383.6,419.8 384,416.3 384.5,418.1 384.9,413.4 385.3,412.6 385.8,414.3 386.1,412.8 386.6,425.6 387,421.3 387.4,413.9 387.8,420.4 388.2,421.3 388.5,423.6 389.1,416.5 389.5,426.3 389.9,427.1 390.3,432.4 390.7,430.6 391.2,423.6 391.6,417.5 392,420.1 392.4,421.6 392.8,423.8 393.2,422.1 393.7,419.6 393.9,425 394.1,427.4 394.5,424.8 394.9,422 395.3,421 395.8,419.8 396.2,417.5 396.6,421 397,419.9 397.4,419 397.8,428 398.3,420.5 398.7,423.4 399.1,418.2 399.3,422.3 399.5,420.7 399.9,414.6 400.3,423.9 400.8,430.3 401.2,422.6 401.6,422.8 401.9,421 402.4,425.8 402.9,417.1 403.3,417.3 403.7,418.9 404.1,425.4 404.6,419.6 404.9,417 405.4,417.8 405.8,418.3 406.2,418.6 406.6,416.9 407,424.4 407.5,418.1 408,423.6 408.3,426.1 408.7,430.1 409.1,424.7 409.3,430.3 409.5,433.3 410,430.1 410.5,438 410.8,444.1 411.2,445.7 411.5,448.7 412.1,446.1 412.5,457.3 412.9,457.9 413.3,462.8 413.7,463.1 414.1,467.6 414.6,460.5 415,459.8 415.4,470.5 415.8,466.2 416.2,474.3 416.6,473.2 417.1,474.1 417.5,474.8 417.9,472.7 418.3,476.4 418.7,477.1 419.2,478.9 419.6,482.5 420,479.1 420.2,480.4 420.4,481.8 420.8,484.1 421.2,481 421.7,481.5 422.1,482.4 422.5,482.6 422.9,482.7 423.3,486.2 423.7,486.1 424.2,487 424.6,486.1 425,486.3 425.4,487.4 425.8,486.8 426.3,487.6 426.7,487.6 427.1,489 427.5,489.1 427.9,489 428.1,489 428.4,488.4 428.8,488.9 429.2,489.8 429.6,490.5 430,489.4 430.4,490.7 430.9,489.7 431.3,490 431.7,490.2 432.1,490.3 432.4,490.4 446.3,490.4 446.7,490.5 473.9,490.5 474.3,490.6 501.9,490.6 502.3,490.7 516,490.7 L516.00,490.70 L301.70,490.70 Z" fill="#d8d8d8" stroke="none"/>
<path d="M301.7,490.7 339,490.7 339.3,490.5 339.7,490.3 340.3,490 340.6,490.2 341,489.1 341.4,489 341.8,488.1 342.2,486.4 342.8,486.5 343.1,483.5 343.5,485.7 343.9,484 344.3,483.2 344.8,482.1 345.2,481.9 345.6,479.6 346,479.1 346.4,476.8 346.8,476.6 347.3,476.7 347.7,475.1 348.1,472.3 348.5,467.8 348.9,464.4 349.4,466 349.8,462.6 350.2,464 350.6,464.8 350.9,458.8 351.4,457.9 351.9,454.1 352.3,443.2 352.7,441.2 353,440 353.5,429.8 354,423.3 354.5,420 354.8,400.9 355.2,380 355.7,355 356,347.6 356.3,341.3 356.5,338.3 357,325.2 357.4,310 357.6,292.3 358.1,293.1 358.5,292.4 359,292.6 359.4,293 359.8,293.8 360.2,292.3 360.4,304.5 360.6,304.8 361.1,305.9 361.3,305.8 361.6,320 361.9,325.9 362.2,330 362.7,336 362.9,341.3 362.9,360.1 363.1,364.2 363.3,375 363.6,373.4 364,381.4 364.2,388 364.4,394.6 364.8,398.1 365.1,403.5 365.7,406.2 366.1,415.9 366.5,411.7 366.9,412.3 367.1,416.9 367.3,426.2 367.7,412.5 368.2,417.5 368.6,418.6 369,414.7 369.4,412.4 369.8,418.3 370.4,411.6 370.7,415.9 371.1,414.9 371.5,424.1 371.9,415.2 372.4,421 372.8,418 373.2,421.5 373.6,421.3 374,423.3 374.4,420.5 374.8,425.5 375.1,423.6 375.3,417.6 375.7,417 376.1,419.7 376.5,416.6 376.9,414.9 377.4,414.6 377.8,415.6 378.2,417.1 378.6,419.2 379,421.7 379.4,417.3 379.9,413.9 380.3,412.5 380.5,417 380.7,412.9 381.1,411.4 381.5,421.2 382,426.5 382.4,419.5 382.8,421.6 383.2,421 383.6,419.8 384,416.3 384.5,418.1 384.9,413.4 385.3,412.6 385.8,414.3 386.1,412.8 386.6,425.6 387,421.3 387.4,413.9 387.8,420.4 388.2,421.3 388.5,423.6 389.1,416.5 389.5,426.3 389.9,427.1 390.3,432.4 390.7,430.6 391.2,423.6 391.6,417.5 392,420.1 392.4,421.6 392.8,423.8 393.2,422.1 393.7,419.6 393.9,425 394.1,427.4 394.5,424.8 394.9,422 395.3,421 395.8,419.8 396.2,417.5 396.6,421 397,419.9 397.4,419 397.8,428 398.3,420.5 398.7,423.4 399.1,418.2 399.3,422.3 399.5,420.7 399.9,414.6 400.3,423.9 400.8,430.3 401.2,422.6 401.6,422.8 401.9,421 402.4,425.8 402.9,417.1 403.3,417.3 403.7,418.9 404.1,425.4 404.6,419.6 404.9,417 405.4,417.8 405.8,418.3 406.2,418.6 406.6,416.9 407,424.4 407.5,418.1 408,423.6 408.3,426.1 408.7,430.1 409.1,424.7 409.3,430.3 409.5,433.3 410,430.1 410.5,438 410.8,444.1 411.2,445.7 411.5,448.7 412.1,446.1 412.5,457.3 412.9,457.9 413.3,462.8 413.7,463.1 414.1,467.6 414.6,460.5 415,459.8 415.4,470.5 415.8,466.2 416.2,474.3 416.6,473.2 417.1,474.1 417.5,474.8 417.9,472.7 418.3,476.4 418.7,477.1 419.2,478.9 419.6,482.5 420,479.1 420.2,480.4 420.4,481.8 420.8,484.1 421.2,481 421.7,481.5 422.1,482.4 422.5,482.6 422.9,482.7 423.3,486.2 423.7,486.1 424.2,487 424.6,486.1 425,486.3 425.4,487.4 425.8,486.8 426.3,487.6 426.7,487.6 427.1,489 427.5,489.1 427.9,489 428.1,489 428.4,488.4 428.8,488.9 429.2,489.8 429.6,490.5 430,489.4 430.4,490.7 430.9,489.7 431.3,490 431.7,490.2 432.1,490.3 432.4,490.4 446.3,490.4 446.7,490.5 473.9,490.5 474.3,490.6 501.9,490.6 502.3,490.7 516,490.7" fill="none" stroke="#151515" stroke-width="0.8" stroke-linejoin="round"/>
<path d="M301.7,490.7 336,490.7 336.4,490.5 336.8,490.4 337.2,490.2 337.6,487.9 338.2,483 338.5,483.6 339,481.6 339.3,483.1 339.7,482.4 340.2,483.6 340.6,483.5 341,486 341.2,484.9 341.4,486.3 341.8,480.2 342.2,481.9 342.7,481.4 343.1,483 343.5,480.3 343.9,481.8 344.4,478.4 344.8,475.7 345.2,476.3 345.6,475.8 346,472.1 346.4,471.9 346.9,471.9 347.3,470.7 347.7,466.5 348.1,467.9 348.5,466 348.9,462.6 349.3,458.8 349.8,456.2 350.2,460.7 350.6,456.2 351,451.4 351.4,446.7 351.7,447.4 351.9,445.4 352.3,438.4 352.7,440.5 353.1,429.8 353.4,426.3 354,411 354.2,410 354.4,396.3 354.8,386.9 355.2,377.8 355.5,366.8 356.1,353.4 356.5,352.2 356.9,352.1 357.3,346.4 357.5,342.7 357.7,343.8 358.1,340.2 358.5,344.7 358.8,346.7 359,348.5 359.4,357.7 359.8,353.5 360.2,360.1 360.6,360.8 361.1,362.7 361.3,373 361.5,377.5 361.9,372.2 362.3,382.4 362.6,385 363.1,376.6 363.6,393.9 364,391 364.2,398.5 364.4,384.8 364.8,407.3 365.2,417.3 365.6,410.2 366.1,413.3 366.6,419 366.9,415.2 367.3,423.3 367.7,416.1 368.2,421.9 368.4,425 368.6,433.8 369,429.2 369.4,427.3 369.8,428.8 370.3,425.7 370.7,422.5 371.1,423.6 371.5,419.9 371.9,417.2 372.3,426.9 372.8,422.7 373.2,428.8 373.6,432.3 373.8,428 374,428.9 374.4,429.5 374.8,425.6 375.3,426.3 375.7,427.8 376.1,427.3 376.5,429.5 376.9,426.4 377.4,434.7 377.8,428.9 378.2,431.8 378.6,433.6 379.1,430.5 379.4,432.8 379.9,426.7 380.3,433.1 380.7,433.4 381.1,430.8 381.5,425.9 381.8,426.3 382,432.4 382.4,421.9 382.8,426.4 383.2,426.4 383.6,430.1 384,421.4 384.5,423.1 384.9,421.7 385.3,416.4 385.8,422.6 386.1,425.3 386.6,422.9 387,419.5 387.4,423 387.8,420.1 388.2,415 388.5,418 389.1,419.1 389.5,410 389.9,418 390.3,416.8 390.7,422.8 391.2,414 391.6,412.2 392,413.2 392.4,419.9 392.8,411.8 393.2,402.6 393.7,403.6 393.9,409 394.1,407.3 394.5,397.4 394.9,394.4 395.3,393.9 395.9,390 396.2,393.2 396.6,399.2 397,392 397.4,396.5 397.9,398 398.3,398.5 398.7,388.6 399.1,396.8 399.5,399.8 399.9,393.4 400.3,390.7 400.6,393 400.8,392.4 401.2,388.9 401.6,380.6 402,383.3 402.2,382.7 402.4,393.2 402.9,390.9 403.3,390.2 403.7,387.9 403.9,390.1 404.1,394 404.5,386.8 404.9,404.9 405.4,403.1 405.8,397.6 406,399.5 406.2,403.1 406.6,399.7 407,401 407.3,408.9 407.5,407.8 407.9,416 408.3,418.3 408.6,419 409.1,419.1 409.5,427.6 410,426.3 410.4,428 410.8,431.5 411.2,433.3 411.6,437.4 412.2,441.6 412.5,448.2 412.9,448.1 413.3,453.1 413.5,460 413.7,461.4 414.1,466.1 414.6,464.6 415,461.1 415.4,468.7 415.8,471.6 416,470 416.2,469.4 416.6,474.1 417.1,473 417.5,475.5 417.9,476.8 418.3,474.5 418.7,476 419.2,477.2 419.6,478.2 420,476 420.4,477.3 420.8,479.6 421.2,480.9 421.7,476.4 422.1,480.1 422.5,480.5 422.9,484.1 423.3,479.4 423.8,480 424.2,481 424.6,482.4 425,482.6 425.4,482.3 425.8,482 426.3,482.3 426.6,483.5 427.1,484.6 427.5,486.4 427.9,485 428.4,484.8 428.8,483.9 429.2,485 429.6,482.6 430,485.7 430.4,486.4 430.9,486 431.3,485.7 431.7,486.3 432.1,486.3 432.5,486.7 433,487.5 433.4,487.3 433.8,487.1 434.2,487.3 434.6,486.5 435,487.2 435.5,488.4 435.9,488.3 436.3,487.5 436.7,488.3 437.1,486.7 437.6,488.4 438,487.9 438.4,488 438.8,488.6 439.2,488.9 439.6,487.5 440.1,487.8 440.5,488.1 440.9,489.1 441.3,489.5 441.7,489.6 442.1,488.8 442.6,489.5 443,489.6 443.4,488.8 443.9,489.5 444.2,490 444.7,489.3 445.1,489.9 445.5,489.2 445.9,489.6 446.3,489.5 446.7,489.9 447.2,490 447.6,490 448,490.1 448.4,490.2 448.8,490.2 449.3,490.3 449.7,490.4 461,490.4 461.4,490.5 482.7,490.5 483.1,490.6 504.8,490.6 505.3,490.7 516,490.7" fill="none" stroke="#000" stroke-width="1.5" stroke-linejoin="round"/>
<line x1="301.80" y1="292.30" x2="517.20" y2="292.30" stroke="#111" stroke-width="1.3"/>
<line x1="516.70" y1="292.30" x2="516.70" y2="490.70" stroke="#777" stroke-width="1.2"/>
<line x1="301.80" y1="490.60" x2="517.20" y2="490.60" stroke="#000" stroke-width="1.7"/>
<line x1="301.80" y1="291.70" x2="301.80" y2="490.70" stroke="#333" stroke-width="1"/>
<line x1="298.80" y1="490.20" x2="301.80" y2="490.20" stroke="#222" stroke-width="0.9"/>
<line x1="300.00" y1="484.09" x2="301.80" y2="484.09" stroke="#222" stroke-width="0.9"/>
<line x1="300.00" y1="477.47" x2="301.80" y2="477.47" stroke="#222" stroke-width="0.9"/>
<line x1="300.00" y1="470.86" x2="301.80" y2="470.86" stroke="#222" stroke-width="0.9"/>
<line x1="300.00" y1="464.25" x2="301.80" y2="464.25" stroke="#222" stroke-width="0.9"/>
<line x1="298.80" y1="457.63" x2="301.80" y2="457.63" stroke="#222" stroke-width="0.9"/>
<line x1="300.00" y1="451.02" x2="301.80" y2="451.02" stroke="#222" stroke-width="0.9"/>
<line x1="300.00" y1="444.41" x2="301.80" y2="444.41" stroke="#222" stroke-width="0.9"/>
<line x1="300.00" y1="437.79" x2="301.80" y2="437.79" stroke="#222" stroke-width="0.9"/>
<line x1="300.00" y1="431.18" x2="301.80" y2="431.18" stroke="#222" stroke-width="0.9"/>
<line x1="298.80" y1="424.57" x2="301.80" y2="424.57" stroke="#222" stroke-width="0.9"/>
<line x1="300.00" y1="417.95" x2="301.80" y2="417.95" stroke="#222" stroke-width="0.9"/>
<line x1="300.00" y1="411.34" x2="301.80" y2="411.34" stroke="#222" stroke-width="0.9"/>
<line x1="300.00" y1="404.73" x2="301.80" y2="404.73" stroke="#222" stroke-width="0.9"/>
<line x1="300.00" y1="398.11" x2="301.80" y2="398.11" stroke="#222" stroke-width="0.9"/>
<line x1="298.80" y1="391.50" x2="301.80" y2="391.50" stroke="#222" stroke-width="0.9"/>
<line x1="300.00" y1="384.89" x2="301.80" y2="384.89" stroke="#222" stroke-width="0.9"/>
<line x1="300.00" y1="378.27" x2="301.80" y2="378.27" stroke="#222" stroke-width="0.9"/>
<line x1="300.00" y1="371.66" x2="301.80" y2="371.66" stroke="#222" stroke-width="0.9"/>
<line x1="300.00" y1="365.05" x2="301.80" y2="365.05" stroke="#222" stroke-width="0.9"/>
<line x1="298.80" y1="358.43" x2="301.80" y2="358.43" stroke="#222" stroke-width="0.9"/>
<line x1="300.00" y1="351.82" x2="301.80" y2="351.82" stroke="#222" stroke-width="0.9"/>
<line x1="300.00" y1="345.21" x2="301.80" y2="345.21" stroke="#222" stroke-width="0.9"/>
<line x1="300.00" y1="338.59" x2="301.80" y2="338.59" stroke="#222" stroke-width="0.9"/>
<line x1="300.00" y1="331.98" x2="301.80" y2="331.98" stroke="#222" stroke-width="0.9"/>
<line x1="298.80" y1="325.37" x2="301.80" y2="325.37" stroke="#222" stroke-width="0.9"/>
<line x1="300.00" y1="318.75" x2="301.80" y2="318.75" stroke="#222" stroke-width="0.9"/>
<line x1="300.00" y1="312.14" x2="301.80" y2="312.14" stroke="#222" stroke-width="0.9"/>
<line x1="300.00" y1="305.53" x2="301.80" y2="305.53" stroke="#222" stroke-width="0.9"/>
<line x1="300.00" y1="298.91" x2="301.80" y2="298.91" stroke="#222" stroke-width="0.9"/>
<line x1="298.80" y1="292.30" x2="301.80" y2="292.30" stroke="#222" stroke-width="0.9"/>
<line x1="302.40" y1="490.70" x2="302.40" y2="495.50" stroke="#222" stroke-width="0.9"/>
<line x1="310.52" y1="490.70" x2="310.52" y2="493.70" stroke="#222" stroke-width="0.9"/>
<line x1="318.64" y1="490.70" x2="318.64" y2="493.70" stroke="#222" stroke-width="0.9"/>
<line x1="326.76" y1="490.70" x2="326.76" y2="493.70" stroke="#222" stroke-width="0.9"/>
<line x1="334.88" y1="490.70" x2="334.88" y2="493.70" stroke="#222" stroke-width="0.9"/>
<line x1="344.20" y1="490.70" x2="344.20" y2="495.50" stroke="#222" stroke-width="0.9"/>
<line x1="352.32" y1="490.70" x2="352.32" y2="493.70" stroke="#222" stroke-width="0.9"/>
<line x1="360.44" y1="490.70" x2="360.44" y2="493.70" stroke="#222" stroke-width="0.9"/>
<line x1="368.56" y1="490.70" x2="368.56" y2="493.70" stroke="#222" stroke-width="0.9"/>
<line x1="376.68" y1="490.70" x2="376.68" y2="493.70" stroke="#222" stroke-width="0.9"/>
<line x1="386.00" y1="490.70" x2="386.00" y2="495.50" stroke="#222" stroke-width="0.9"/>
<line x1="394.12" y1="490.70" x2="394.12" y2="493.70" stroke="#222" stroke-width="0.9"/>
<line x1="402.24" y1="490.70" x2="402.24" y2="493.70" stroke="#222" stroke-width="0.9"/>
<line x1="410.36" y1="490.70" x2="410.36" y2="493.70" stroke="#222" stroke-width="0.9"/>
<line x1="418.48" y1="490.70" x2="418.48" y2="493.70" stroke="#222" stroke-width="0.9"/>
<line x1="427.80" y1="490.70" x2="427.80" y2="495.50" stroke="#222" stroke-width="0.9"/>
<line x1="435.92" y1="490.70" x2="435.92" y2="493.70" stroke="#222" stroke-width="0.9"/>
<line x1="444.04" y1="490.70" x2="444.04" y2="493.70" stroke="#222" stroke-width="0.9"/>
<line x1="452.16" y1="490.70" x2="452.16" y2="493.70" stroke="#222" stroke-width="0.9"/>
<line x1="460.28" y1="490.70" x2="460.28" y2="493.70" stroke="#222" stroke-width="0.9"/>
<line x1="469.60" y1="490.70" x2="469.60" y2="495.50" stroke="#222" stroke-width="0.9"/>
<line x1="477.72" y1="490.70" x2="477.72" y2="493.70" stroke="#222" stroke-width="0.9"/>
<line x1="485.84" y1="490.70" x2="485.84" y2="493.70" stroke="#222" stroke-width="0.9"/>
<line x1="493.96" y1="490.70" x2="493.96" y2="493.70" stroke="#222" stroke-width="0.9"/>
<line x1="502.08" y1="490.70" x2="502.08" y2="493.70" stroke="#222" stroke-width="0.9"/>
<line x1="511.40" y1="490.70" x2="511.40" y2="495.50" stroke="#222" stroke-width="0.9"/>
<text transform="translate(296.80,490.70) rotate(-90) scale(1.3,1.0)" class="yl">0</text>
<text transform="translate(296.80,457.63) rotate(-90) scale(1.3,1.0)" class="yl">30</text>
<text transform="translate(296.80,424.57) rotate(-90) scale(1.3,1.0)" class="yl">60</text>
<text transform="translate(296.80,391.50) rotate(-90) scale(1.3,1.0)" class="yl">90</text>
<text transform="translate(296.80,358.43) rotate(-90) scale(1.3,1.0)" class="yl">120</text>
<text transform="translate(296.80,325.37) rotate(-90) scale(1.3,1.0)" class="yl">150</text>
<text transform="translate(296.80,292.30) rotate(-90) scale(1.3,1.0)" class="yl">180</text>
<text transform="translate(303.20,505.30) scale(0.66,1)" class="xl">0</text>
<text transform="translate(345.00,505.30) scale(0.66,1)" class="xl">200</text>
<text transform="translate(386.80,505.30) scale(0.66,1)" class="xl">400</text>
<text transform="translate(428.60,505.30) scale(0.66,1)" class="xl">600</text>
<text transform="translate(470.40,505.30) scale(0.66,1)" class="xl">800</text>
<text transform="translate(512.20,505.30) scale(0.66,1)" class="xl">1000</text>
<text transform="translate(408.90,513.50) scale(0.7,1)" class="xt">FL1-A</text>
<text transform="translate(290.00,393.70) rotate(-90) scale(1.49,1.0)" class="ct">Counts</text>
<text x="452.60" y="310.70" class="tt" xml:space="preserve">E.  VB</text>
<path d="M575.6,490.7 610,490.7 610.3,490.6 610.7,490.5 611.1,490.4 611.5,490.3 612,490.2 612.4,490.1 612.8,490 613.2,488.8 613.5,489.8 614.1,489.3 614.5,488.4 614.9,489 615.3,488.8 615.7,489.7 616.1,489.4 616.6,490.7 617,490.1 617.4,489.1 617.8,489.3 618,489 618.2,487.8 618.7,488.9 619.1,487.4 619.5,487.4 619.9,487.1 620.3,486.3 620.7,485.3 621.2,486.1 621.6,485.7 621.8,484.5 622,480.5 622.4,481.5 622.8,480.7 623.3,478.6 623.7,478.4 624,477 624.5,474.7 624.9,471.8 625.3,472.4 625.8,468.8 626.3,465 626.6,464.8 627,450 627.3,430 627.6,411.3 628,395 628.3,375 628.8,355 629.1,336.5 629.3,331.9 629.5,321.5 629.8,305.1 630.4,298.4 630.6,295 630.8,295.8 631.2,292.3 632.4,292.3 632.9,292.9 633.3,292.3 633.4,295 633.6,305.1 634.1,321.7 634.3,325.2 634.5,330.9 635,345.3 635.4,350.9 635.9,355 636,365.3 636.2,367.5 636.6,380.4 637,380.7 637.6,391.5 637.9,396.9 638.1,397.2 638.3,395.9 638.7,403 639.1,407.6 639.6,407 639.8,409.9 640,410.3 640.4,415.5 640.9,415.6 641.2,416.5 641.6,416.2 642.1,433.3 642.5,426.7 643,425 643.3,423.5 643.7,419.5 644.2,430.1 644.6,422.9 645,426.4 645.4,435.8 645.8,427.2 646,430 646.2,430.3 646.7,432.1 647.1,435 647.5,435.5 647.9,437.5 648.3,429.3 648.8,434 649.2,425.7 649.6,432.7 650,433 650.4,440.1 650.8,434.6 651.3,432.1 651.7,432.2 652.1,430.3 652.5,432 652.9,431.4 653.3,434.1 653.8,432.1 654.2,434.6 654.6,438.7 655,435 655.4,431.9 655.9,429.9 656.3,442.6 656.7,441.2 657.1,436.8 657.5,435 657.9,431.2 658.4,438.7 658.8,435.2 659.2,436.5 659.6,435.2 660,435 660.5,428.3 660.9,432.5 661.3,436.4 661.7,430.3 662.1,434.7 662.5,432.5 663,429.4 663.4,436 663.8,428.9 664.2,428.2 664.6,439.6 665,433 665.5,433.6 665.9,436.8 666.3,429.4 666.7,430.7 667.1,433 667.6,432.7 668,433.2 668.4,425.4 668.8,434.1 669,430 669.2,425.3 669.6,428.8 670.1,439 670.5,431.8 670.9,425 671.3,427.8 671.7,422.6 672,425 672.2,422.2 672.6,420.8 673,422.1 673.4,422.8 673.8,424.9 674.2,430.8 674.7,422.8 675.1,421.2 675.5,414.3 676,418 676.3,418.1 676.8,423.5 677.2,415.8 677.6,421.9 678,410.6 678.4,410.4 678.8,410 679.4,409 679.7,411.2 680.1,410.9 680.5,401.2 680.9,405.3 681.4,407.1 681.7,411 682.2,410.2 682.6,415.5 683,416 683.5,414 683.9,406.7 684.3,426.1 684.8,420 685.1,423.4 685.5,434 685.7,435 686,435.5 686.4,440.6 686.8,440.4 687.2,453.6 687.6,448.5 687.8,450 688,453.7 688.5,453.1 688.9,460.5 689.3,465 689.7,464.4 690,465 690.6,470.7 691,473 691.5,477 691.8,479.1 692.2,480.5 692.6,480.9 693.1,482.1 693.5,483.9 693.8,484.5 694.3,485.2 694.7,486.2 695.1,485.3 695.6,485.8 696,485.2 696.4,486.6 696.8,486.4 697.2,485.3 697.5,487.5 697.7,486.8 698.1,486.3 698.5,487.4 698.9,487.4 699.3,488.9 699.7,488 700.2,487.5 700.6,487.7 701,487.8 701.4,487.9 701.8,488.7 702.3,488 702.7,488.7 703.1,489.3 703.5,488.3 703.9,488.8 704.3,490 704.8,489.3 705,489 705.2,488.8 705.6,489.4 706,488.9 706.4,488.6 706.9,489.7 707.3,488.6 707.7,488.8 708.1,489.2 708.5,489.8 708.9,489.7 709.4,489 709.8,489.4 710.2,489.2 710.6,489.9 711,489.7 711.4,489.2 711.9,490 712.3,488.9 712.7,489.5 713.1,488.8 713.5,490.2 714,489.8 714.4,490.1 714.8,490 715.2,490.1 715.6,490.2 716,490.3 716.5,490.4 717,490.5 734.9,490.5 735.3,490.6 771.6,490.6 772.1,490.7 790,490.7 L790.00,490.70 L575.60,490.70 Z" fill="#d8d8d8" stroke="none"/>
<path d="M575.6,490.7 610,490.7 610.3,490.6 610.7,490.5 611.1,490.4 611.5,490.3 612,490.2 612.4,490.1 612.8,490 613.2,488.8 613.5,489.8 614.1,489.3 614.5,488.4 614.9,489 615.3,488.8 615.7,489.7 616.1,489.4 616.6,490.7 617,490.1 617.4,489.1 617.8,489.3 618,489 618.2,487.8 618.7,488.9 619.1,487.4 619.5,487.4 619.9,487.1 620.3,486.3 620.7,485.3 621.2,486.1 621.6,485.7 621.8,484.5 622,480.5 622.4,481.5 622.8,480.7 623.3,478.6 623.7,478.4 624,477 624.5,474.7 624.9,471.8 625.3,472.4 625.8,468.8 626.3,465 626.6,464.8 627,450 627.3,430 627.6,411.3 628,395 628.3,375 628.8,355 629.1,336.5 629.3,331.9 629.5,321.5 629.8,305.1 630.4,298.4 630.6,295 630.8,295.8 631.2,292.3 632.4,292.3 632.9,292.9 633.3,292.3 633.4,295 633.6,305.1 634.1,321.7 634.3,325.2 634.5,330.9 635,345.3 635.4,350.9 635.9,355 636,365.3 636.2,367.5 636.6,380.4 637,380.7 637.6,391.5 637.9,396.9 638.1,397.2 638.3,395.9 638.7,403 639.1,407.6 639.6,407 639.8,409.9 640,410.3 640.4,415.5 640.9,415.6 641.2,416.5 641.6,416.2 642.1,433.3 642.5,426.7 643,425 643.3,423.5 643.7,419.5 644.2,430.1 644.6,422.9 645,426.4 645.4,435.8 645.8,427.2 646,430 646.2,430.3 646.7,432.1 647.1,435 647.5,435.5 647.9,437.5 648.3,429.3 648.8,434 649.2,425.7 649.6,432.7 650,433 650.4,440.1 650.8,434.6 651.3,432.1 651.7,432.2 652.1,430.3 652.5,432 652.9,431.4 653.3,434.1 653.8,432.1 654.2,434.6 654.6,438.7 655,435 655.4,431.9 655.9,429.9 656.3,442.6 656.7,441.2 657.1,436.8 657.5,435 657.9,431.2 658.4,438.7 658.8,435.2 659.2,436.5 659.6,435.2 660,435 660.5,428.3 660.9,432.5 661.3,436.4 661.7,430.3 662.1,434.7 662.5,432.5 663,429.4 663.4,436 663.8,428.9 664.2,428.2 664.6,439.6 665,433 665.5,433.6 665.9,436.8 666.3,429.4 666.7,430.7 667.1,433 667.6,432.7 668,433.2 668.4,425.4 668.8,434.1 669,430 669.2,425.3 669.6,428.8 670.1,439 670.5,431.8 670.9,425 671.3,427.8 671.7,422.6 672,425 672.2,422.2 672.6,420.8 673,422.1 673.4,422.8 673.8,424.9 674.2,430.8 674.7,422.8 675.1,421.2 675.5,414.3 676,418 676.3,418.1 676.8,423.5 677.2,415.8 677.6,421.9 678,410.6 678.4,410.4 678.8,410 679.4,409 679.7,411.2 680.1,410.9 680.5,401.2 680.9,405.3 681.4,407.1 681.7,411 682.2,410.2 682.6,415.5 683,416 683.5,414 683.9,406.7 684.3,426.1 684.8,420 685.1,423.4 685.5,434 685.7,435 686,435.5 686.4,440.6 686.8,440.4 687.2,453.6 687.6,448.5 687.8,450 688,453.7 688.5,453.1 688.9,460.5 689.3,465 689.7,464.4 690,465 690.6,470.7 691,473 691.5,477 691.8,479.1 692.2,480.5 692.6,480.9 693.1,482.1 693.5,483.9 693.8,484.5 694.3,485.2 694.7,486.2 695.1,485.3 695.6,485.8 696,485.2 696.4,486.6 696.8,486.4 697.2,485.3 697.5,487.5 697.7,486.8 698.1,486.3 698.5,487.4 698.9,487.4 699.3,488.9 699.7,488 700.2,487.5 700.6,487.7 701,487.8 701.4,487.9 701.8,488.7 702.3,488 702.7,488.7 703.1,489.3 703.5,488.3 703.9,488.8 704.3,490 704.8,489.3 705,489 705.2,488.8 705.6,489.4 706,488.9 706.4,488.6 706.9,489.7 707.3,488.6 707.7,488.8 708.1,489.2 708.5,489.8 708.9,489.7 709.4,489 709.8,489.4 710.2,489.2 710.6,489.9 711,489.7 711.4,489.2 711.9,490 712.3,488.9 712.7,489.5 713.1,488.8 713.5,490.2 714,489.8 714.4,490.1 714.8,490 715.2,490.1 715.6,490.2 716,490.3 716.5,490.4 717,490.5 734.9,490.5 735.3,490.6 771.6,490.6 772.1,490.7 790,490.7" fill="none" stroke="#151515" stroke-width="0.8" stroke-linejoin="round"/>
<path d="M575.6,490.7 610,490.7 610.3,490.6 610.7,490.5 611.1,490.4 611.5,490.3 612,490.2 612.4,490.1 612.8,490 613.2,489.8 613.5,489.8 614.1,489.9 614.5,489.1 614.9,489.2 615.3,489.6 615.7,489.5 616.1,489.2 616.6,488.8 617,489.2 617.4,489.1 617.8,489.6 618,489 618.2,488.7 618.7,488.4 619.1,488.9 619.5,489 619.9,486.7 620.3,486.5 620.7,487.3 621.2,483.2 621.6,485.7 621.8,484.5 622,484.4 622.4,483.2 622.8,479.9 623.3,480 623.7,476.8 624,477 624.5,476 624.9,473.6 625.3,468.7 625.8,468.6 626.3,465 626.6,459.6 627,450 627.3,430 627.6,411.3 628,395 628.3,375 628.8,355 629.1,337.4 629.3,331.9 629.5,318.7 629.8,305.1 630.4,298.2 630.6,295 630.8,293.5 631.2,292.3 631.6,293.7 632,292.7 632.4,292.6 632.9,292.6 633.3,292.3 633.4,295 633.6,305.1 634.1,318.3 634.3,325.2 634.5,336.4 635,345.3 635.4,345.6 635.9,355 636,365.3 636.2,373.6 636.6,370 637,380.7 637.6,391.5 637.9,396.1 638.1,397.2 638.3,400.6 638.7,403 639.1,403.6 639.6,406.9 639.8,409.9 640,409.9 640.4,413.5 640.9,415.6 641.2,415.7 641.6,411.9 642.1,417.4 642.6,421 642.9,421.6 643.3,424.4 643.7,421.2 644.2,426.3 644.6,426.3 645,420.6 645.4,419.7 645.8,431.5 646,424.5 646.2,425.6 646.7,432.3 647.1,424.4 647.5,422.3 647.9,426.5 648.3,422.5 648.8,423.7 649.2,424.5 649.6,431.7 650,426 650.4,433.2 650.8,424 651.3,425.3 651.7,429.3 652.1,432.2 652.5,424.2 652.9,426.1 653.3,425.8 653.8,431.5 654.2,424.3 654.6,426.2 655,427 655.4,434.2 655.9,429.7 656.3,428 656.7,427.6 657.1,425.7 657.5,423.8 657.9,425.8 658.4,430.4 658.8,430.2 659.2,433.8 659.6,427.3 660,427 660.5,429.3 660.9,431.7 661.3,420 661.7,426.7 662.1,430.3 662.5,425.7 663,419.1 663.4,430.8 663.8,417.7 664.2,424.2 664.6,429.7 665,426 665.5,433.3 665.9,427.9 666.3,424.9 666.7,419.3 667.1,428.7 667.6,425.2 668,424.5 668.4,418.8 668.8,429.2 669.2,425.4 669.5,422 670.1,424.5 670.5,419.7 670.9,414 671.4,417 671.7,425.5 672.2,408.6 672.6,416.9 673,416.1 673.5,413 673.8,419.8 674.2,414.1 674.7,417.1 675.1,412.7 675.5,414.9 676,410 676.3,409.6 676.8,407.6 677.2,409.6 677.6,412 678,406.6 678.3,406.5 678.8,409.5 679.3,409 679.7,399.1 680.1,401.7 680.6,402 680.9,404.3 681.4,397.7 681.8,394.2 682.2,404.7 682.6,401.2 682.9,403.5 683.4,405.2 684,409 684.3,410.8 684.7,410.4 685.2,420.2 685.5,424.4 685.9,435 686.4,437.1 686.8,440.3 687.2,441.5 687.6,445.6 687.8,450 688,452.3 688.5,454.8 688.9,459.2 689.3,459.2 689.7,464.4 690,465 690.6,471.5 691,473.5 691.5,477 691.8,475 692.2,482.8 692.6,479 693.1,481.6 693.5,483.9 693.8,484.5 694.3,485.7 694.7,486 695.1,486.2 695.6,484.3 696,487.5 696.4,488.1 696.8,487.7 697.2,488.5 697.5,487.5 697.7,487.6 698.1,488 698.5,485.3 698.9,487.8 699.3,488.6 699.7,487.2 700.2,489.5 700.6,487.4 701,487.3 701.4,488.4 701.8,487.6 702.3,488.3 702.7,488.2 703.1,488.4 703.5,489.6 703.9,487.6 704.3,489.9 704.8,488.7 705,489 705.2,488.8 705.6,487.9 706,489.6 706.4,488.9 707.3,488.9 707.7,490.2 708.1,489.2 708.5,489.3 708.9,488.8 709.4,488.8 709.8,489.1 710.2,489.7 710.6,489.2 711,490.2 711.4,489.3 711.9,489.7 712.3,489.1 712.7,489.2 713.1,489.8 713.5,490 714,489.8 714.4,490.6 714.8,490 715.2,490.1 715.6,490.2 716,490.3 716.5,490.4 717,490.5 734.9,490.5 735.3,490.6 771.6,490.6 772.1,490.7 790,490.7" fill="none" stroke="#000" stroke-width="1.5" stroke-linejoin="round"/>
<line x1="575.40" y1="292.30" x2="791.00" y2="292.30" stroke="#111" stroke-width="1.3"/>
<line x1="790.50" y1="292.30" x2="790.50" y2="490.70" stroke="#777" stroke-width="1.2"/>
<line x1="575.40" y1="490.60" x2="791.00" y2="490.60" stroke="#000" stroke-width="1.7"/>
<line x1="575.40" y1="291.70" x2="575.40" y2="490.70" stroke="#333" stroke-width="1"/>
<line x1="572.40" y1="490.20" x2="575.40" y2="490.20" stroke="#222" stroke-width="0.9"/>
<line x1="573.60" y1="484.09" x2="575.40" y2="484.09" stroke="#222" stroke-width="0.9"/>
<line x1="573.60" y1="477.47" x2="575.40" y2="477.47" stroke="#222" stroke-width="0.9"/>
<line x1="573.60" y1="470.86" x2="575.40" y2="470.86" stroke="#222" stroke-width="0.9"/>
<line x1="573.60" y1="464.25" x2="575.40" y2="464.25" stroke="#222" stroke-width="0.9"/>
<line x1="572.40" y1="457.63" x2="575.40" y2="457.63" stroke="#222" stroke-width="0.9"/>
<line x1="573.60" y1="451.02" x2="575.40" y2="451.02" stroke="#222" stroke-width="0.9"/>
<line x1="573.60" y1="444.41" x2="575.40" y2="444.41" stroke="#222" stroke-width="0.9"/>
<line x1="573.60" y1="437.79" x2="575.40" y2="437.79" stroke="#222" stroke-width="0.9"/>
<line x1="573.60" y1="431.18" x2="575.40" y2="431.18" stroke="#222" stroke-width="0.9"/>
<line x1="572.40" y1="424.57" x2="575.40" y2="424.57" stroke="#222" stroke-width="0.9"/>
<line x1="573.60" y1="417.95" x2="575.40" y2="417.95" stroke="#222" stroke-width="0.9"/>
<line x1="573.60" y1="411.34" x2="575.40" y2="411.34" stroke="#222" stroke-width="0.9"/>
<line x1="573.60" y1="404.73" x2="575.40" y2="404.73" stroke="#222" stroke-width="0.9"/>
<line x1="573.60" y1="398.11" x2="575.40" y2="398.11" stroke="#222" stroke-width="0.9"/>
<line x1="572.40" y1="391.50" x2="575.40" y2="391.50" stroke="#222" stroke-width="0.9"/>
<line x1="573.60" y1="384.89" x2="575.40" y2="384.89" stroke="#222" stroke-width="0.9"/>
<line x1="573.60" y1="378.27" x2="575.40" y2="378.27" stroke="#222" stroke-width="0.9"/>
<line x1="573.60" y1="371.66" x2="575.40" y2="371.66" stroke="#222" stroke-width="0.9"/>
<line x1="573.60" y1="365.05" x2="575.40" y2="365.05" stroke="#222" stroke-width="0.9"/>
<line x1="572.40" y1="358.43" x2="575.40" y2="358.43" stroke="#222" stroke-width="0.9"/>
<line x1="573.60" y1="351.82" x2="575.40" y2="351.82" stroke="#222" stroke-width="0.9"/>
<line x1="573.60" y1="345.21" x2="575.40" y2="345.21" stroke="#222" stroke-width="0.9"/>
<line x1="573.60" y1="338.59" x2="575.40" y2="338.59" stroke="#222" stroke-width="0.9"/>
<line x1="573.60" y1="331.98" x2="575.40" y2="331.98" stroke="#222" stroke-width="0.9"/>
<line x1="572.40" y1="325.37" x2="575.40" y2="325.37" stroke="#222" stroke-width="0.9"/>
<line x1="573.60" y1="318.75" x2="575.40" y2="318.75" stroke="#222" stroke-width="0.9"/>
<line x1="573.60" y1="312.14" x2="575.40" y2="312.14" stroke="#222" stroke-width="0.9"/>
<line x1="573.60" y1="305.53" x2="575.40" y2="305.53" stroke="#222" stroke-width="0.9"/>
<line x1="573.60" y1="298.91" x2="575.40" y2="298.91" stroke="#222" stroke-width="0.9"/>
<line x1="572.40" y1="292.30" x2="575.40" y2="292.30" stroke="#222" stroke-width="0.9"/>
<line x1="576.10" y1="490.70" x2="576.10" y2="495.50" stroke="#222" stroke-width="0.9"/>
<line x1="584.22" y1="490.70" x2="584.22" y2="493.70" stroke="#222" stroke-width="0.9"/>
<line x1="592.34" y1="490.70" x2="592.34" y2="493.70" stroke="#222" stroke-width="0.9"/>
<line x1="600.46" y1="490.70" x2="600.46" y2="493.70" stroke="#222" stroke-width="0.9"/>
<line x1="608.58" y1="490.70" x2="608.58" y2="493.70" stroke="#222" stroke-width="0.9"/>
<line x1="617.90" y1="490.70" x2="617.90" y2="495.50" stroke="#222" stroke-width="0.9"/>
<line x1="626.02" y1="490.70" x2="626.02" y2="493.70" stroke="#222" stroke-width="0.9"/>
<line x1="634.14" y1="490.70" x2="634.14" y2="493.70" stroke="#222" stroke-width="0.9"/>
<line x1="642.26" y1="490.70" x2="642.26" y2="493.70" stroke="#222" stroke-width="0.9"/>
<line x1="650.38" y1="490.70" x2="650.38" y2="493.70" stroke="#222" stroke-width="0.9"/>
<line x1="659.70" y1="490.70" x2="659.70" y2="495.50" stroke="#222" stroke-width="0.9"/>
<line x1="667.82" y1="490.70" x2="667.82" y2="493.70" stroke="#222" stroke-width="0.9"/>
<line x1="675.94" y1="490.70" x2="675.94" y2="493.70" stroke="#222" stroke-width="0.9"/>
<line x1="684.06" y1="490.70" x2="684.06" y2="493.70" stroke="#222" stroke-width="0.9"/>
<line x1="692.18" y1="490.70" x2="692.18" y2="493.70" stroke="#222" stroke-width="0.9"/>
<line x1="701.50" y1="490.70" x2="701.50" y2="495.50" stroke="#222" stroke-width="0.9"/>
<line x1="709.62" y1="490.70" x2="709.62" y2="493.70" stroke="#222" stroke-width="0.9"/>
<line x1="717.74" y1="490.70" x2="717.74" y2="493.70" stroke="#222" stroke-width="0.9"/>
<line x1="725.86" y1="490.70" x2="725.86" y2="493.70" stroke="#222" stroke-width="0.9"/>
<line x1="733.98" y1="490.70" x2="733.98" y2="493.70" stroke="#222" stroke-width="0.9"/>
<line x1="743.30" y1="490.70" x2="743.30" y2="495.50" stroke="#222" stroke-width="0.9"/>
<line x1="751.42" y1="490.70" x2="751.42" y2="493.70" stroke="#222" stroke-width="0.9"/>
<line x1="759.54" y1="490.70" x2="759.54" y2="493.70" stroke="#222" stroke-width="0.9"/>
<line x1="767.66" y1="490.70" x2="767.66" y2="493.70" stroke="#222" stroke-width="0.9"/>
<line x1="775.78" y1="490.70" x2="775.78" y2="493.70" stroke="#222" stroke-width="0.9"/>
<line x1="785.10" y1="490.70" x2="785.10" y2="495.50" stroke="#222" stroke-width="0.9"/>
<text transform="translate(570.70,490.70) rotate(-90) scale(1.3,1.0)" class="yl">0</text>
<text transform="translate(570.70,457.63) rotate(-90) scale(1.3,1.0)" class="yl">30</text>
<text transform="translate(570.70,424.57) rotate(-90) scale(1.3,1.0)" class="yl">60</text>
<text transform="translate(570.70,391.50) rotate(-90) scale(1.3,1.0)" class="yl">90</text>
<text transform="translate(570.70,358.43) rotate(-90) scale(1.3,1.0)" class="yl">120</text>
<text transform="translate(570.70,325.37) rotate(-90) scale(1.3,1.0)" class="yl">150</text>
<text transform="translate(570.70,292.30) rotate(-90) scale(1.3,1.0)" class="yl">180</text>
<text transform="translate(576.90,505.30) scale(0.66,1)" class="xl">0</text>
<text transform="translate(618.70,505.30) scale(0.66,1)" class="xl">200</text>
<text transform="translate(660.50,505.30) scale(0.66,1)" class="xl">400</text>
<text transform="translate(702.30,505.30) scale(0.66,1)" class="xl">600</text>
<text transform="translate(744.10,505.30) scale(0.66,1)" class="xl">800</text>
<text transform="translate(785.90,505.30) scale(0.66,1)" class="xl">1000</text>
<text transform="translate(682.60,513.50) scale(0.7,1)" class="xt">FL1-A</text>
<text transform="translate(563.60,393.70) rotate(-90) scale(1.49,1.0)" class="ct">Counts</text>
<text x="721.80" y="310.70" class="tt" xml:space="preserve">F.  DEX</text>
<rect x="79.2" y="17.5" width="2.9" height="1.4" fill="#000"/>
<rect x="357.3" y="17.5" width="3.4" height="1.6" fill="#000"/>
<rect x="631.2" y="17.5" width="3.2" height="1.3" fill="#000"/>
<rect x="82.8" y="292.3" width="6.3" height="2.3" fill="#000"/>
<rect x="357.3" y="292.3" width="3.0" height="1.5" fill="#000"/>
<rect x="631.0" y="292.3" width="2.8" height="1.4" fill="#000"/>
</svg>
</body></html>
